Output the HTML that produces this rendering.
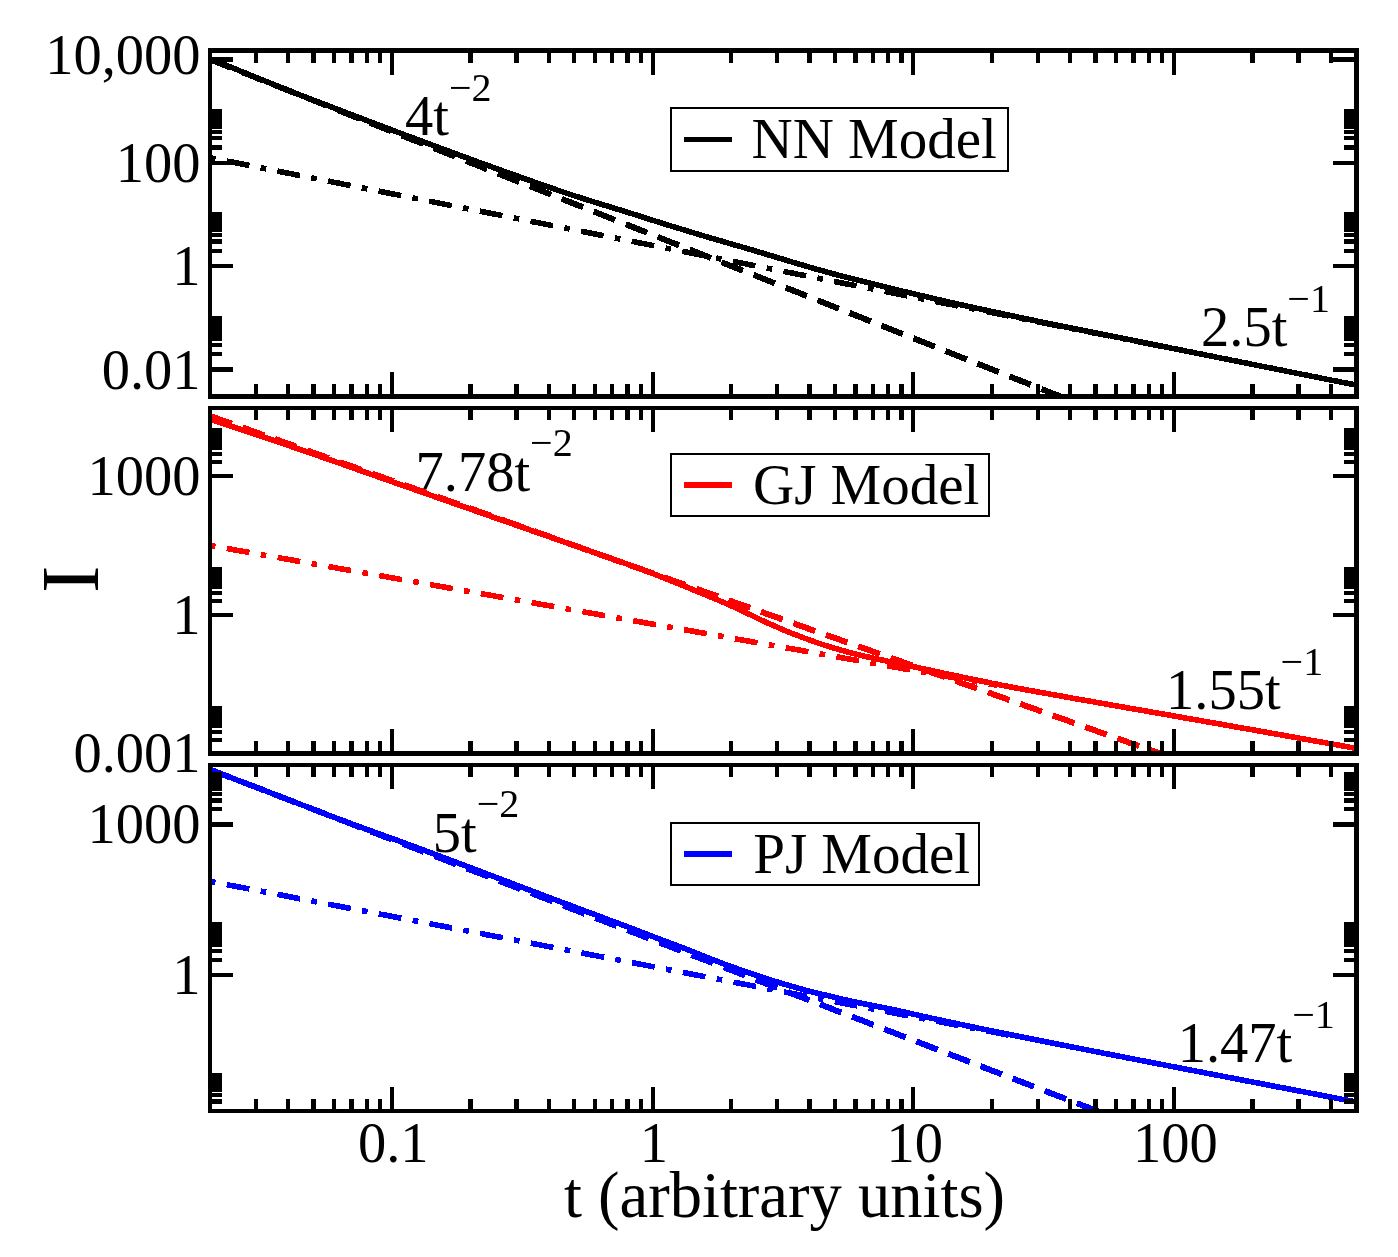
<!DOCTYPE html><html><head><meta charset="utf-8"><title>plot</title><style>html,body{margin:0;padding:0;background:#fff}svg{display:block}text{font-family:"Liberation Serif","Times New Roman",serif;fill:#000}</style></head><body>
<svg width="1398" height="1257" viewBox="0 0 1398 1257">
<rect width="1398" height="1257" fill="#fff"/>
<defs>
<clipPath id="c0"><rect x="210.0" y="50.5" width="1146.5" height="346.0"/></clipPath>
<clipPath id="c1"><rect x="210.0" y="408.0" width="1146.5" height="345.5"/></clipPath>
<clipPath id="c2"><rect x="210.0" y="765.0" width="1146.5" height="346.0"/></clipPath>
</defs>
<text x="405" y="135" font-size="56.5">4t<tspan font-size="40.0" dy="-34">−2</tspan></text>
<text x="1201" y="345.8" font-size="56.5">2.5t<tspan font-size="40.0" dy="-34">−1</tspan></text>
<text x="415.5" y="491.3" font-size="56.5">7.78t<tspan font-size="40.0" dy="-35">−2</tspan></text>
<text x="1166" y="709.3" font-size="56.5">1.55t<tspan font-size="40.0" dy="-34">−1</tspan></text>
<text x="432.8" y="851.5" font-size="56.5">5t<tspan font-size="40.0" dy="-35">−2</tspan></text>
<text x="1177.7" y="1062.4" font-size="56.5">1.47t<tspan font-size="40.0" dy="-34">−1</tspan></text>
<polyline points="210.0,59.4 212.9,60.5 215.7,61.7 218.6,62.8 221.5,64.0 224.4,65.1 227.2,66.2 230.1,67.4 233.0,68.5 235.9,69.7 238.7,70.8 241.6,71.9 244.5,73.1 247.4,74.2 250.2,75.3 253.1,76.5 256.0,77.6 258.8,78.8 261.7,79.9 264.6,81.0 267.5,82.2 270.3,83.3 273.2,84.5 276.1,85.6 279.0,86.7 281.8,87.9 284.7,89.0 287.6,90.2 290.5,91.3 293.3,92.4 296.2,93.6 299.1,94.7 301.9,95.9 304.8,97.0 307.7,98.1 310.6,99.3 313.4,100.4 316.3,101.5 319.2,102.7 322.1,103.8 324.9,105.0 327.8,106.1 330.7,107.2 333.6,108.4 336.4,109.5 339.3,110.7 342.2,111.8 345.1,112.9 347.9,114.1 350.8,115.2 353.7,116.4 356.5,117.5 359.4,118.6 362.3,119.8 365.2,120.9 368.0,122.1 370.9,123.2 373.8,124.3 376.7,125.5 379.5,126.6 382.4,127.7 385.3,128.9 388.2,130.0 391.0,131.2 393.9,132.3 396.8,133.4 399.6,134.6 402.5,135.7 405.4,136.9 408.3,138.0 411.1,139.1 414.0,140.3 416.9,141.4 419.8,142.6 422.6,143.7 425.5,144.8 428.4,146.0 431.3,147.1 434.1,148.3 437.0,149.4 439.9,150.5 442.7,151.7 445.6,152.8 448.5,153.9 451.4,155.1 454.2,156.2 457.1,157.4 460.0,158.5 462.9,159.6 465.7,160.8 468.6,161.9 471.5,163.1 474.4,164.2 477.2,165.3 480.1,166.5 483.0,167.6 485.8,168.8 488.7,169.9 491.6,171.0 494.5,172.2 497.3,173.3 500.2,174.5 503.1,175.6 506.0,176.7 508.8,177.9 511.7,179.0 514.6,180.1 517.5,181.3 520.3,182.4 523.2,183.6 526.1,184.7 529.0,185.8 531.8,187.0 534.7,188.1 537.6,189.3 540.4,190.4 543.3,191.5 546.2,192.7 549.1,193.8 551.9,195.0 554.8,196.1 557.7,197.2 560.6,198.4 563.4,199.5 566.3,200.7 569.2,201.8 572.1,202.9 574.9,204.1 577.8,205.2 580.7,206.3 583.5,207.5 586.4,208.6 589.3,209.8 592.2,210.9 595.0,212.0 597.9,213.2 600.8,214.3 603.7,215.5 606.5,216.6 609.4,217.7 612.3,218.9 615.2,220.0 618.0,221.2 620.9,222.3 623.8,223.4 626.6,224.6 629.5,225.7 632.4,226.9 635.3,228.0 638.1,229.1 641.0,230.3 643.9,231.4 646.8,232.5 649.6,233.7 652.5,234.8 655.4,236.0 658.3,237.1 661.1,238.2 664.0,239.4 666.9,240.5 669.7,241.7 672.6,242.8 675.5,243.9 678.4,245.1 681.2,246.2 684.1,247.4 687.0,248.5 689.9,249.6 692.7,250.8 695.6,251.9 698.5,253.1 701.4,254.2 704.2,255.3 707.1,256.5 710.0,257.6 712.9,258.7 715.7,259.9 718.6,261.0 721.5,262.2 724.3,263.3 727.2,264.4 730.1,265.6 733.0,266.7 735.8,267.9 738.7,269.0 741.6,270.1 744.5,271.3 747.3,272.4 750.2,273.6 753.1,274.7 756.0,275.8 758.8,277.0 761.7,278.1 764.6,279.3 767.4,280.4 770.3,281.5 773.2,282.7 776.1,283.8 778.9,284.9 781.8,286.1 784.7,287.2 787.6,288.4 790.4,289.5 793.3,290.6 796.2,291.8 799.1,292.9 801.9,294.1 804.8,295.2 807.7,296.3 810.5,297.5 813.4,298.6 816.3,299.8 819.2,300.9 822.0,302.0 824.9,303.2 827.8,304.3 830.7,305.5 833.5,306.6 836.4,307.7 839.3,308.9 842.2,310.0 845.0,311.2 847.9,312.3 850.8,313.4 853.6,314.6 856.5,315.7 859.4,316.8 862.3,318.0 865.1,319.1 868.0,320.3 870.9,321.4 873.8,322.5 876.6,323.7 879.5,324.8 882.4,326.0 885.3,327.1 888.1,328.2 891.0,329.4 893.9,330.5 896.8,331.7 899.6,332.8 902.5,333.9 905.4,335.1 908.2,336.2 911.1,337.4 914.0,338.5 916.9,339.6 919.7,340.8 922.6,341.9 925.5,343.0 928.4,344.2 931.2,345.3 934.1,346.5 937.0,347.6 939.9,348.7 942.7,349.9 945.6,351.0 948.5,352.2 951.3,353.3 954.2,354.4 957.1,355.6 960.0,356.7 962.8,357.9 965.7,359.0 968.6,360.1 971.5,361.3 974.3,362.4 977.2,363.6 980.1,364.7 983.0,365.8 985.8,367.0 988.7,368.1 991.6,369.2 994.4,370.4 997.3,371.5 1000.2,372.7 1003.1,373.8 1005.9,374.9 1008.8,376.1 1011.7,377.2 1014.6,378.4 1017.4,379.5 1020.3,380.6 1023.2,381.8 1026.1,382.9 1028.9,384.1 1031.8,385.2 1034.7,386.3 1037.5,387.5 1040.4,388.6 1043.3,389.8 1046.2,390.9 1049.0,392.0 1051.9,393.2 1054.8,394.3 1057.7,395.4 1060.5,396.6 1063.4,397.7 1066.3,398.9 1069.2,400.0 1072.0,401.1 1074.9,402.3 1077.8,403.4 1080.7,404.6 1083.5,405.7 1086.4,406.8 1089.3,408.0 1092.1,409.1 1095.0,410.3 1097.9,411.4 1100.8,412.5 1103.6,413.7 1106.5,414.8 1109.4,416.0 1112.3,417.1 1115.1,418.2 1118.0,419.4 1120.9,420.5 1123.8,421.6 1126.6,422.8 1129.5,423.9 1132.4,425.1 1135.2,426.2 1138.1,427.3 1141.0,428.5 1143.9,429.6 1146.7,430.8 1149.6,431.9 1152.5,433.0 1155.4,434.2 1158.2,435.3 1161.1,436.5 1164.0,437.6 1166.9,438.7 1169.7,439.9 1172.6,441.0 1175.5,442.2 1178.3,443.3 1181.2,444.4 1184.1,445.6 1187.0,446.7 1189.8,447.8 1192.7,449.0 1195.6,450.1 1198.5,451.3 1201.3,452.4 1204.2,453.5 1207.1,454.7 1210.0,455.8 1212.8,457.0 1215.7,458.1 1218.6,459.2 1221.4,460.4 1224.3,461.5 1227.2,462.7 1230.1,463.8 1232.9,464.9 1235.8,466.1 1238.7,467.2 1241.6,468.4 1244.4,469.5 1247.3,470.6 1250.2,471.8 1253.1,472.9 1255.9,474.0 1258.8,475.2 1261.7,476.3 1264.6,477.5 1267.4,478.6 1270.3,479.7 1273.2,480.9 1276.0,482.0 1278.9,483.2 1281.8,484.3 1284.7,485.4 1287.5,486.6 1290.4,487.7 1293.3,488.9 1296.2,490.0 1299.0,491.1 1301.9,492.3 1304.8,493.4 1307.7,494.6 1310.5,495.7 1313.4,496.8 1316.3,498.0 1319.1,499.1 1322.0,500.2 1324.9,501.4 1327.8,502.5 1330.6,503.7 1333.5,504.8 1336.4,505.9 1339.3,507.1 1342.1,508.2 1345.0,509.4 1347.9,510.5 1350.8,511.6 1353.6,512.8 1356.5,513.9" fill="none" stroke="#000" stroke-width="6.0" shape-rendering="crispEdges" stroke-dasharray="23 11.4" clip-path="url(#c0)"/>
<polyline points="210.0,157.7 212.9,158.3 215.7,158.8 218.6,159.4 221.5,160.0 224.4,160.5 227.2,161.1 230.1,161.7 233.0,162.2 235.9,162.8 238.7,163.4 241.6,164.0 244.5,164.5 247.4,165.1 250.2,165.7 253.1,166.2 256.0,166.8 258.8,167.4 261.7,167.9 264.6,168.5 267.5,169.1 270.3,169.7 273.2,170.2 276.1,170.8 279.0,171.4 281.8,171.9 284.7,172.5 287.6,173.1 290.5,173.6 293.3,174.2 296.2,174.8 299.1,175.3 301.9,175.9 304.8,176.5 307.7,177.1 310.6,177.6 313.4,178.2 316.3,178.8 319.2,179.3 322.1,179.9 324.9,180.5 327.8,181.0 330.7,181.6 333.6,182.2 336.4,182.8 339.3,183.3 342.2,183.9 345.1,184.5 347.9,185.0 350.8,185.6 353.7,186.2 356.5,186.7 359.4,187.3 362.3,187.9 365.2,188.4 368.0,189.0 370.9,189.6 373.8,190.2 376.7,190.7 379.5,191.3 382.4,191.9 385.3,192.4 388.2,193.0 391.0,193.6 393.9,194.1 396.8,194.7 399.6,195.3 402.5,195.9 405.4,196.4 408.3,197.0 411.1,197.6 414.0,198.1 416.9,198.7 419.8,199.3 422.6,199.8 425.5,200.4 428.4,201.0 431.3,201.5 434.1,202.1 437.0,202.7 439.9,203.3 442.7,203.8 445.6,204.4 448.5,205.0 451.4,205.5 454.2,206.1 457.1,206.7 460.0,207.2 462.9,207.8 465.7,208.4 468.6,209.0 471.5,209.5 474.4,210.1 477.2,210.7 480.1,211.2 483.0,211.8 485.8,212.4 488.7,212.9 491.6,213.5 494.5,214.1 497.3,214.6 500.2,215.2 503.1,215.8 506.0,216.4 508.8,216.9 511.7,217.5 514.6,218.1 517.5,218.6 520.3,219.2 523.2,219.8 526.1,220.3 529.0,220.9 531.8,221.5 534.7,222.1 537.6,222.6 540.4,223.2 543.3,223.8 546.2,224.3 549.1,224.9 551.9,225.5 554.8,226.0 557.7,226.6 560.6,227.2 563.4,227.7 566.3,228.3 569.2,228.9 572.1,229.5 574.9,230.0 577.8,230.6 580.7,231.2 583.5,231.7 586.4,232.3 589.3,232.9 592.2,233.4 595.0,234.0 597.9,234.6 600.8,235.2 603.7,235.7 606.5,236.3 609.4,236.9 612.3,237.4 615.2,238.0 618.0,238.6 620.9,239.1 623.8,239.7 626.6,240.3 629.5,240.8 632.4,241.4 635.3,242.0 638.1,242.6 641.0,243.1 643.9,243.7 646.8,244.3 649.6,244.8 652.5,245.4 655.4,246.0 658.3,246.5 661.1,247.1 664.0,247.7 666.9,248.3 669.7,248.8 672.6,249.4 675.5,250.0 678.4,250.5 681.2,251.1 684.1,251.7 687.0,252.2 689.9,252.8 692.7,253.4 695.6,254.0 698.5,254.5 701.4,255.1 704.2,255.7 707.1,256.2 710.0,256.8 712.9,257.4 715.7,257.9 718.6,258.5 721.5,259.1 724.3,259.6 727.2,260.2 730.1,260.8 733.0,261.4 735.8,261.9 738.7,262.5 741.6,263.1 744.5,263.6 747.3,264.2 750.2,264.8 753.1,265.3 756.0,265.9 758.8,266.5 761.7,267.1 764.6,267.6 767.4,268.2 770.3,268.8 773.2,269.3 776.1,269.9 778.9,270.5 781.8,271.0 784.7,271.6 787.6,272.2 790.4,272.7 793.3,273.3 796.2,273.9 799.1,274.5 801.9,275.0 804.8,275.6 807.7,276.2 810.5,276.7 813.4,277.3 816.3,277.9 819.2,278.4 822.0,279.0 824.9,279.6 827.8,280.2 830.7,280.7 833.5,281.3 836.4,281.9 839.3,282.4 842.2,283.0 845.0,283.6 847.9,284.1 850.8,284.7 853.6,285.3 856.5,285.8 859.4,286.4 862.3,287.0 865.1,287.6 868.0,288.1 870.9,288.7 873.8,289.3 876.6,289.8 879.5,290.4 882.4,291.0 885.3,291.5 888.1,292.1 891.0,292.7 893.9,293.3 896.8,293.8 899.6,294.4 902.5,295.0 905.4,295.5 908.2,296.1 911.1,296.7 914.0,297.2 916.9,297.8 919.7,298.4 922.6,298.9 925.5,299.5 928.4,300.1 931.2,300.7 934.1,301.2 937.0,301.8 939.9,302.4 942.7,302.9 945.6,303.5 948.5,304.1 951.3,304.6 954.2,305.2 957.1,305.8 960.0,306.4 962.8,306.9 965.7,307.5 968.6,308.1 971.5,308.6 974.3,309.2 977.2,309.8 980.1,310.3 983.0,310.9 985.8,311.5 988.7,312.0 991.6,312.6 994.4,313.2 997.3,313.8 1000.2,314.3 1003.1,314.9 1005.9,315.5 1008.8,316.0 1011.7,316.6 1014.6,317.2 1017.4,317.7 1020.3,318.3 1023.2,318.9 1026.1,319.5 1028.9,320.0 1031.8,320.6 1034.7,321.2 1037.5,321.7 1040.4,322.3 1043.3,322.9 1046.2,323.4 1049.0,324.0 1051.9,324.6 1054.8,325.1 1057.7,325.7 1060.5,326.3 1063.4,326.9 1066.3,327.4 1069.2,328.0 1072.0,328.6 1074.9,329.1 1077.8,329.7 1080.7,330.3 1083.5,330.8 1086.4,331.4 1089.3,332.0 1092.1,332.6 1095.0,333.1 1097.9,333.7 1100.8,334.3 1103.6,334.8 1106.5,335.4 1109.4,336.0 1112.3,336.5 1115.1,337.1 1118.0,337.7 1120.9,338.2 1123.8,338.8 1126.6,339.4 1129.5,340.0 1132.4,340.5 1135.2,341.1 1138.1,341.7 1141.0,342.2 1143.9,342.8 1146.7,343.4 1149.6,343.9 1152.5,344.5 1155.4,345.1 1158.2,345.7 1161.1,346.2 1164.0,346.8 1166.9,347.4 1169.7,347.9 1172.6,348.5" fill="none" stroke="#000" stroke-width="5.6" shape-rendering="crispEdges" stroke-dasharray="5.6 11.5 23 11.5" clip-path="url(#c0)"/>
<polyline points="210.0,58.6 212.9,59.7 215.7,60.9 218.6,62.1 221.5,63.3 224.4,64.5 227.2,65.7 230.1,66.8 233.0,68.0 235.9,69.2 238.7,70.4 241.6,71.6 244.5,72.7 247.4,73.9 250.2,75.1 253.1,76.3 256.0,77.4 258.8,78.6 261.7,79.8 264.6,80.9 267.5,82.1 270.3,83.2 273.2,84.4 276.1,85.5 279.0,86.7 281.8,87.8 284.7,89.0 287.6,90.1 290.5,91.2 293.3,92.3 296.2,93.5 299.1,94.6 301.9,95.7 304.8,96.8 307.7,97.9 310.6,99.0 313.4,100.1 316.3,101.2 319.2,102.3 322.1,103.4 324.9,104.5 327.8,105.6 330.7,106.7 333.6,107.8 336.4,108.9 339.3,110.0 342.2,111.1 345.1,112.2 347.9,113.3 350.8,114.4 353.7,115.5 356.5,116.6 359.4,117.7 362.3,118.8 365.2,119.9 368.0,121.0 370.9,122.1 373.8,123.2 376.7,124.3 379.5,125.3 382.4,126.4 385.3,127.5 388.2,128.6 391.0,129.7 393.9,130.8 396.8,131.9 399.6,132.9 402.5,134.0 405.4,135.1 408.3,136.2 411.1,137.2 414.0,138.3 416.9,139.4 419.8,140.5 422.6,141.5 425.5,142.6 428.4,143.7 431.3,144.7 434.1,145.8 437.0,146.9 439.9,147.9 442.7,149.0 445.6,150.1 448.5,151.1 451.4,152.2 454.2,153.2 457.1,154.3 460.0,155.4 462.9,156.4 465.7,157.5 468.6,158.5 471.5,159.6 474.4,160.6 477.2,161.7 480.1,162.7 483.0,163.7 485.8,164.8 488.7,165.8 491.6,166.9 494.5,167.9 497.3,168.9 500.2,170.0 503.1,171.0 506.0,172.0 508.8,173.0 511.7,174.1 514.6,175.1 517.5,176.1 520.3,177.1 523.2,178.2 526.1,179.2 529.0,180.2 531.8,181.2 534.7,182.2 537.6,183.2 540.4,184.2 543.3,185.2 546.2,186.2 549.1,187.2 551.9,188.2 554.8,189.2 557.7,190.2 560.6,191.2 563.4,192.2 566.3,193.1 569.2,194.1 572.1,195.0 574.9,196.0 577.8,196.9 580.7,197.8 583.5,198.7 586.4,199.6 589.3,200.5 592.2,201.4 595.0,202.3 597.9,203.2 600.8,204.1 603.7,205.0 606.5,205.8 609.4,206.7 612.3,207.6 615.2,208.5 618.0,209.4 620.9,210.2 623.8,211.1 626.6,212.0 629.5,212.9 632.4,213.8 635.3,214.7 638.1,215.6 641.0,216.5 643.9,217.4 646.8,218.4 649.6,219.3 652.5,220.2 655.4,221.1 658.3,222.0 661.1,222.9 664.0,223.8 666.9,224.7 669.7,225.6 672.6,226.5 675.5,227.3 678.4,228.2 681.2,229.1 684.1,230.0 687.0,230.9 689.9,231.7 692.7,232.6 695.6,233.5 698.5,234.3 701.4,235.2 704.2,236.1 707.1,236.9 710.0,237.8 712.9,238.6 715.7,239.5 718.6,240.3 721.5,241.1 724.3,242.0 727.2,242.8 730.1,243.6 733.0,244.5 735.8,245.3 738.7,246.1 741.6,246.9 744.5,247.8 747.3,248.6 750.2,249.4 753.1,250.3 756.0,251.1 758.8,252.0 761.7,252.8 764.6,253.7 767.4,254.6 770.3,255.4 773.2,256.3 776.1,257.2 778.9,258.0 781.8,258.9 784.7,259.8 787.6,260.6 790.4,261.5 793.3,262.4 796.2,263.2 799.1,264.1 801.9,264.9 804.8,265.8 807.7,266.6 810.5,267.5 813.4,268.3 816.3,269.1 819.2,269.9 822.0,270.7 824.9,271.5 827.8,272.3 830.7,273.1 833.5,273.9 836.4,274.6 839.3,275.4 842.2,276.1 845.0,276.9 847.9,277.6 850.8,278.4 853.6,279.1 856.5,279.8 859.4,280.5 862.3,281.3 865.1,282.0 868.0,282.7 870.9,283.4 873.8,284.1 876.6,284.9 879.5,285.6 882.4,286.3 885.3,287.0 888.1,287.7 891.0,288.4 893.9,289.1 896.8,289.8 899.6,290.5 902.5,291.2 905.4,291.9 908.2,292.5 911.1,293.2 914.0,293.9 916.9,294.6 919.7,295.3 922.6,295.9 925.5,296.6 928.4,297.3 931.2,298.0 934.1,298.6 937.0,299.3 939.9,300.0 942.7,300.6 945.6,301.3 948.5,301.9 951.3,302.6 954.2,303.2 957.1,303.9 960.0,304.5 962.8,305.2 965.7,305.8 968.6,306.4 971.5,307.1 974.3,307.7 977.2,308.3 980.1,309.0 983.0,309.6 985.8,310.2 988.7,310.8 991.6,311.4 994.4,312.1 997.3,312.7 1000.2,313.3 1003.1,313.9 1005.9,314.5 1008.8,315.1 1011.7,315.7 1014.6,316.3 1017.4,317.0 1020.3,317.6 1023.2,318.2 1026.1,318.8 1028.9,319.4 1031.8,320.0 1034.7,320.6 1037.5,321.2 1040.4,321.8 1043.3,322.4 1046.2,323.0 1049.0,323.6 1051.9,324.1 1054.8,324.7 1057.7,325.3 1060.5,325.9 1063.4,326.5 1066.3,327.1 1069.2,327.6 1072.0,328.2 1074.9,328.8 1077.8,329.4 1080.7,329.9 1083.5,330.5 1086.4,331.1 1089.3,331.6 1092.1,332.2 1095.0,332.8 1097.9,333.4 1100.8,333.9 1103.6,334.5 1106.5,335.1 1109.4,335.6 1112.3,336.2 1115.1,336.8 1118.0,337.3 1120.9,337.9 1123.8,338.5 1126.6,339.1 1129.5,339.6 1132.4,340.2 1135.2,340.8 1138.1,341.4 1141.0,342.0 1143.9,342.5 1146.7,343.1 1149.6,343.7 1152.5,344.3 1155.4,344.9 1158.2,345.5 1161.1,346.0 1164.0,346.6 1166.9,347.2 1169.7,347.8 1172.6,348.4 1175.5,348.9 1178.3,349.5 1181.2,350.1 1184.1,350.7 1187.0,351.3 1189.8,351.8 1192.7,352.4 1195.6,353.0 1198.5,353.6 1201.3,354.1 1204.2,354.7 1207.1,355.3 1210.0,355.9 1212.8,356.4 1215.7,357.0 1218.6,357.6 1221.4,358.2 1224.3,358.7 1227.2,359.3 1230.1,359.9 1232.9,360.5 1235.8,361.0 1238.7,361.6 1241.6,362.2 1244.4,362.8 1247.3,363.3 1250.2,363.9 1253.1,364.5 1255.9,365.1 1258.8,365.6 1261.7,366.2 1264.6,366.8 1267.4,367.4 1270.3,367.9 1273.2,368.5 1276.0,369.1 1278.9,369.7 1281.8,370.2 1284.7,370.8 1287.5,371.4 1290.4,372.0 1293.3,372.5 1296.2,373.1 1299.0,373.7 1301.9,374.3 1304.8,374.8 1307.7,375.4 1310.5,376.0 1313.4,376.6 1316.3,377.1 1319.1,377.7 1322.0,378.3 1324.9,378.9 1327.8,379.4 1330.6,380.0 1333.5,380.6 1336.4,381.1 1339.3,381.7 1342.1,382.3 1345.0,382.9 1347.9,383.4 1350.8,384.0 1353.6,384.6 1356.5,385.2" fill="none" stroke="#000" stroke-width="5.6" shape-rendering="crispEdges" clip-path="url(#c0)"/>
<polyline points="210.0,416.0 212.9,417.0 215.7,418.0 218.6,419.1 221.5,420.1 224.4,421.1 227.2,422.1 230.1,423.1 233.0,424.2 235.9,425.2 238.7,426.2 241.6,427.2 244.5,428.3 247.4,429.3 250.2,430.3 253.1,431.3 256.0,432.3 258.8,433.4 261.7,434.4 264.6,435.4 267.5,436.4 270.3,437.4 273.2,438.5 276.1,439.5 279.0,440.5 281.8,441.5 284.7,442.5 287.6,443.6 290.5,444.6 293.3,445.6 296.2,446.6 299.1,447.6 301.9,448.7 304.8,449.7 307.7,450.7 310.6,451.7 313.4,452.8 316.3,453.8 319.2,454.8 322.1,455.8 324.9,456.8 327.8,457.9 330.7,458.9 333.6,459.9 336.4,460.9 339.3,461.9 342.2,463.0 345.1,464.0 347.9,465.0 350.8,466.0 353.7,467.0 356.5,468.1 359.4,469.1 362.3,470.1 365.2,471.1 368.0,472.2 370.9,473.2 373.8,474.2 376.7,475.2 379.5,476.2 382.4,477.3 385.3,478.3 388.2,479.3 391.0,480.3 393.9,481.3 396.8,482.4 399.6,483.4 402.5,484.4 405.4,485.4 408.3,486.4 411.1,487.5 414.0,488.5 416.9,489.5 419.8,490.5 422.6,491.5 425.5,492.6 428.4,493.6 431.3,494.6 434.1,495.6 437.0,496.7 439.9,497.7 442.7,498.7 445.6,499.7 448.5,500.7 451.4,501.8 454.2,502.8 457.1,503.8 460.0,504.8 462.9,505.8 465.7,506.9 468.6,507.9 471.5,508.9 474.4,509.9 477.2,510.9 480.1,512.0 483.0,513.0 485.8,514.0 488.7,515.0 491.6,516.1 494.5,517.1 497.3,518.1 500.2,519.1 503.1,520.1 506.0,521.2 508.8,522.2 511.7,523.2 514.6,524.2 517.5,525.2 520.3,526.3 523.2,527.3 526.1,528.3 529.0,529.3 531.8,530.3 534.7,531.4 537.6,532.4 540.4,533.4 543.3,534.4 546.2,535.4 549.1,536.5 551.9,537.5 554.8,538.5 557.7,539.5 560.6,540.6 563.4,541.6 566.3,542.6 569.2,543.6 572.1,544.6 574.9,545.7 577.8,546.7 580.7,547.7 583.5,548.7 586.4,549.7 589.3,550.8 592.2,551.8 595.0,552.8 597.9,553.8 600.8,554.8 603.7,555.9 606.5,556.9 609.4,557.9 612.3,558.9 615.2,560.0 618.0,561.0 620.9,562.0 623.8,563.0 626.6,564.0 629.5,565.1 632.4,566.1 635.3,567.1 638.1,568.1 641.0,569.1 643.9,570.2 646.8,571.2 649.6,572.2 652.5,573.2 655.4,574.2 658.3,575.3 661.1,576.3 664.0,577.3 666.9,578.3 669.7,579.3 672.6,580.4 675.5,581.4 678.4,582.4 681.2,583.4 684.1,584.5 687.0,585.5 689.9,586.5 692.7,587.5 695.6,588.5 698.5,589.6 701.4,590.6 704.2,591.6 707.1,592.6 710.0,593.6 712.9,594.7 715.7,595.7 718.6,596.7 721.5,597.7 724.3,598.7 727.2,599.8 730.1,600.8 733.0,601.8 735.8,602.8 738.7,603.9 741.6,604.9 744.5,605.9 747.3,606.9 750.2,607.9 753.1,609.0 756.0,610.0 758.8,611.0 761.7,612.0 764.6,613.0 767.4,614.1 770.3,615.1 773.2,616.1 776.1,617.1 778.9,618.1 781.8,619.2 784.7,620.2 787.6,621.2 790.4,622.2 793.3,623.2 796.2,624.3 799.1,625.3 801.9,626.3 804.8,627.3 807.7,628.4 810.5,629.4 813.4,630.4 816.3,631.4 819.2,632.4 822.0,633.5 824.9,634.5 827.8,635.5 830.7,636.5 833.5,637.5 836.4,638.6 839.3,639.6 842.2,640.6 845.0,641.6 847.9,642.6 850.8,643.7 853.6,644.7 856.5,645.7 859.4,646.7 862.3,647.8 865.1,648.8 868.0,649.8 870.9,650.8 873.8,651.8 876.6,652.9 879.5,653.9 882.4,654.9 885.3,655.9 888.1,656.9 891.0,658.0 893.9,659.0 896.8,660.0 899.6,661.0 902.5,662.0 905.4,663.1 908.2,664.1 911.1,665.1 914.0,666.1 916.9,667.1 919.7,668.2 922.6,669.2 925.5,670.2 928.4,671.2 931.2,672.3 934.1,673.3 937.0,674.3 939.9,675.3 942.7,676.3 945.6,677.4 948.5,678.4 951.3,679.4 954.2,680.4 957.1,681.4 960.0,682.5 962.8,683.5 965.7,684.5 968.6,685.5 971.5,686.5 974.3,687.6 977.2,688.6 980.1,689.6 983.0,690.6 985.8,691.7 988.7,692.7 991.6,693.7 994.4,694.7 997.3,695.7 1000.2,696.8 1003.1,697.8 1005.9,698.8 1008.8,699.8 1011.7,700.8 1014.6,701.9 1017.4,702.9 1020.3,703.9 1023.2,704.9 1026.1,705.9 1028.9,707.0 1031.8,708.0 1034.7,709.0 1037.5,710.0 1040.4,711.0 1043.3,712.1 1046.2,713.1 1049.0,714.1 1051.9,715.1 1054.8,716.2 1057.7,717.2 1060.5,718.2 1063.4,719.2 1066.3,720.2 1069.2,721.3 1072.0,722.3 1074.9,723.3 1077.8,724.3 1080.7,725.3 1083.5,726.4 1086.4,727.4 1089.3,728.4 1092.1,729.4 1095.0,730.4 1097.9,731.5 1100.8,732.5 1103.6,733.5 1106.5,734.5 1109.4,735.6 1112.3,736.6 1115.1,737.6 1118.0,738.6 1120.9,739.6 1123.8,740.7 1126.6,741.7 1129.5,742.7 1132.4,743.7 1135.2,744.7 1138.1,745.8 1141.0,746.8 1143.9,747.8 1146.7,748.8 1149.6,749.8 1152.5,750.9 1155.4,751.9 1158.2,752.9 1161.1,753.9 1164.0,754.9 1166.9,756.0 1169.7,757.0 1172.6,758.0 1175.5,759.0 1178.3,760.1 1181.2,761.1 1184.1,762.1 1187.0,763.1 1189.8,764.1 1192.7,765.2 1195.6,766.2 1198.5,767.2 1201.3,768.2 1204.2,769.2 1207.1,770.3 1210.0,771.3 1212.8,772.3 1215.7,773.3 1218.6,774.3 1221.4,775.4 1224.3,776.4 1227.2,777.4 1230.1,778.4 1232.9,779.5 1235.8,780.5 1238.7,781.5 1241.6,782.5 1244.4,783.5 1247.3,784.6 1250.2,785.6 1253.1,786.6 1255.9,787.6 1258.8,788.6 1261.7,789.7 1264.6,790.7 1267.4,791.7 1270.3,792.7 1273.2,793.7 1276.0,794.8 1278.9,795.8 1281.8,796.8 1284.7,797.8 1287.5,798.8 1290.4,799.9 1293.3,800.9 1296.2,801.9 1299.0,802.9 1301.9,804.0 1304.8,805.0 1307.7,806.0 1310.5,807.0 1313.4,808.0 1316.3,809.1 1319.1,810.1 1322.0,811.1 1324.9,812.1 1327.8,813.1 1330.6,814.2 1333.5,815.2 1336.4,816.2 1339.3,817.2 1342.1,818.2 1345.0,819.3 1347.9,820.3 1350.8,821.3 1353.6,822.3 1356.5,823.4" fill="none" stroke="#f00" stroke-width="6.0" shape-rendering="crispEdges" stroke-dasharray="23 11.4" clip-path="url(#c1)"/>
<polyline points="210.0,545.5 212.9,546.0 215.7,546.5 218.6,547.0 221.5,547.5 224.4,548.1 227.2,548.6 230.1,549.1 233.0,549.6 235.9,550.1 238.7,550.6 241.6,551.1 244.5,551.6 247.4,552.1 250.2,552.6 253.1,553.2 256.0,553.7 258.8,554.2 261.7,554.7 264.6,555.2 267.5,555.7 270.3,556.2 273.2,556.7 276.1,557.2 279.0,557.7 281.8,558.3 284.7,558.8 287.6,559.3 290.5,559.8 293.3,560.3 296.2,560.8 299.1,561.3 301.9,561.8 304.8,562.3 307.7,562.9 310.6,563.4 313.4,563.9 316.3,564.4 319.2,564.9 322.1,565.4 324.9,565.9 327.8,566.4 330.7,566.9 333.6,567.4 336.4,568.0 339.3,568.5 342.2,569.0 345.1,569.5 347.9,570.0 350.8,570.5 353.7,571.0 356.5,571.5 359.4,572.0 362.3,572.5 365.2,573.1 368.0,573.6 370.9,574.1 373.8,574.6 376.7,575.1 379.5,575.6 382.4,576.1 385.3,576.6 388.2,577.1 391.0,577.7 393.9,578.2 396.8,578.7 399.6,579.2 402.5,579.7 405.4,580.2 408.3,580.7 411.1,581.2 414.0,581.7 416.9,582.2 419.8,582.8 422.6,583.3 425.5,583.8 428.4,584.3 431.3,584.8 434.1,585.3 437.0,585.8 439.9,586.3 442.7,586.8 445.6,587.3 448.5,587.9 451.4,588.4 454.2,588.9 457.1,589.4 460.0,589.9 462.9,590.4 465.7,590.9 468.6,591.4 471.5,591.9 474.4,592.4 477.2,593.0 480.1,593.5 483.0,594.0 485.8,594.5 488.7,595.0 491.6,595.5 494.5,596.0 497.3,596.5 500.2,597.0 503.1,597.6 506.0,598.1 508.8,598.6 511.7,599.1 514.6,599.6 517.5,600.1 520.3,600.6 523.2,601.1 526.1,601.6 529.0,602.1 531.8,602.7 534.7,603.2 537.6,603.7 540.4,604.2 543.3,604.7 546.2,605.2 549.1,605.7 551.9,606.2 554.8,606.7 557.7,607.2 560.6,607.8 563.4,608.3 566.3,608.8 569.2,609.3 572.1,609.8 574.9,610.3 577.8,610.8 580.7,611.3 583.5,611.8 586.4,612.4 589.3,612.9 592.2,613.4 595.0,613.9 597.9,614.4 600.8,614.9 603.7,615.4 606.5,615.9 609.4,616.4 612.3,616.9 615.2,617.5 618.0,618.0 620.9,618.5 623.8,619.0 626.6,619.5 629.5,620.0 632.4,620.5 635.3,621.0 638.1,621.5 641.0,622.0 643.9,622.6 646.8,623.1 649.6,623.6 652.5,624.1 655.4,624.6 658.3,625.1 661.1,625.6 664.0,626.1 666.9,626.6 669.7,627.2 672.6,627.7 675.5,628.2 678.4,628.7 681.2,629.2 684.1,629.7 687.0,630.2 689.9,630.7 692.7,631.2 695.6,631.7 698.5,632.3 701.4,632.8 704.2,633.3 707.1,633.8 710.0,634.3 712.9,634.8 715.7,635.3 718.6,635.8 721.5,636.3 724.3,636.8 727.2,637.4 730.1,637.9 733.0,638.4 735.8,638.9 738.7,639.4 741.6,639.9 744.5,640.4 747.3,640.9 750.2,641.4 753.1,642.0 756.0,642.5 758.8,643.0 761.7,643.5 764.6,644.0 767.4,644.5 770.3,645.0 773.2,645.5 776.1,646.0 778.9,646.5 781.8,647.1 784.7,647.6 787.6,648.1 790.4,648.6 793.3,649.1 796.2,649.6 799.1,650.1 801.9,650.6 804.8,651.1 807.7,651.6 810.5,652.2 813.4,652.7 816.3,653.2 819.2,653.7 822.0,654.2 824.9,654.7 827.8,655.2 830.7,655.7 833.5,656.2 836.4,656.8 839.3,657.3 842.2,657.8 845.0,658.3 847.9,658.8 850.8,659.3 853.6,659.8 856.5,660.3 859.4,660.8 862.3,661.3 865.1,661.9 868.0,662.4 870.9,662.9 873.8,663.4 876.6,663.9 879.5,664.4 882.4,664.9 885.3,665.4 888.1,665.9 891.0,666.4 893.9,667.0 896.8,667.5 899.6,668.0 902.5,668.5 905.4,669.0 908.2,669.5 911.1,670.0 914.0,670.5 916.9,671.0 919.7,671.5 922.6,672.1 925.5,672.6 928.4,673.1 931.2,673.6 934.1,674.1 937.0,674.6 939.9,675.1 942.7,675.6 945.6,676.1 948.5,676.7 951.3,677.2 954.2,677.7 957.1,678.2 960.0,678.7 962.8,679.2 965.7,679.7 968.6,680.2 971.5,680.7 974.3,681.2 977.2,681.8 980.1,682.3 983.0,682.8 985.8,683.3 988.7,683.8 991.6,684.3 994.4,684.8 997.3,685.3" fill="none" stroke="#f00" stroke-width="5.6" shape-rendering="crispEdges" stroke-dasharray="5.6 11.5 23 11.5" clip-path="url(#c1)"/>
<polyline points="210.0,419.2 212.9,420.1 215.7,421.1 218.6,422.0 221.5,423.0 224.4,423.9 227.2,424.9 230.1,425.8 233.0,426.8 235.9,427.8 238.7,428.7 241.6,429.7 244.5,430.6 247.4,431.6 250.2,432.6 253.1,433.5 256.0,434.5 258.8,435.5 261.7,436.4 264.6,437.4 267.5,438.4 270.3,439.3 273.2,440.3 276.1,441.3 279.0,442.3 281.8,443.3 284.7,444.2 287.6,445.2 290.5,446.2 293.3,447.2 296.2,448.2 299.1,449.2 301.9,450.2 304.8,451.1 307.7,452.1 310.6,453.1 313.4,454.1 316.3,455.1 319.2,456.1 322.1,457.1 324.9,458.1 327.8,459.1 330.7,460.1 333.6,461.1 336.4,462.1 339.3,463.1 342.2,464.1 345.1,465.2 347.9,466.2 350.8,467.2 353.7,468.2 356.5,469.2 359.4,470.2 362.3,471.2 365.2,472.2 368.0,473.2 370.9,474.3 373.8,475.3 376.7,476.3 379.5,477.3 382.4,478.3 385.3,479.3 388.2,480.3 391.0,481.3 393.9,482.4 396.8,483.4 399.6,484.4 402.5,485.4 405.4,486.4 408.3,487.4 411.1,488.4 414.0,489.4 416.9,490.4 419.8,491.4 422.6,492.4 425.5,493.4 428.4,494.4 431.3,495.4 434.1,496.5 437.0,497.5 439.9,498.5 442.7,499.5 445.6,500.5 448.5,501.5 451.4,502.5 454.2,503.5 457.1,504.5 460.0,505.5 462.9,506.5 465.7,507.5 468.6,508.5 471.5,509.5 474.4,510.5 477.2,511.5 480.1,512.5 483.0,513.5 485.8,514.5 488.7,515.5 491.6,516.6 494.5,517.6 497.3,518.6 500.2,519.6 503.1,520.6 506.0,521.6 508.8,522.6 511.7,523.6 514.6,524.6 517.5,525.6 520.3,526.6 523.2,527.6 526.1,528.6 529.0,529.6 531.8,530.7 534.7,531.7 537.6,532.7 540.4,533.7 543.3,534.7 546.2,535.7 549.1,536.7 551.9,537.7 554.8,538.7 557.7,539.7 560.6,540.7 563.4,541.7 566.3,542.8 569.2,543.8 572.1,544.8 574.9,545.8 577.8,546.8 580.7,547.8 583.5,548.8 586.4,549.8 589.3,550.8 592.2,551.8 595.0,552.9 597.9,553.9 600.8,554.9 603.7,555.9 606.5,556.9 609.4,557.9 612.3,558.9 615.2,559.9 618.0,560.9 620.9,561.9 623.8,562.9 626.6,563.9 629.5,564.9 632.4,565.9 635.3,567.0 638.1,568.0 641.0,569.1 643.9,570.2 646.8,571.2 649.6,572.3 652.5,573.5 655.4,574.6 658.3,575.7 661.1,576.8 664.0,578.0 666.9,579.1 669.7,580.2 672.6,581.4 675.5,582.6 678.4,583.7 681.2,584.9 684.1,586.1 687.0,587.2 689.9,588.4 692.7,589.6 695.6,590.8 698.5,592.0 701.4,593.2 704.2,594.3 707.1,595.5 710.0,596.7 712.9,597.9 715.7,599.1 718.6,600.3 721.5,601.6 724.3,602.8 727.2,604.0 730.1,605.3 733.0,606.6 735.8,607.9 738.7,609.2 741.6,610.5 744.5,611.9 747.3,613.3 750.2,614.7 753.1,616.1 756.0,617.5 758.8,618.9 761.7,620.3 764.6,621.6 767.4,622.9 770.3,624.2 773.2,625.4 776.1,626.7 778.9,627.9 781.8,629.2 784.7,630.4 787.6,631.6 790.4,632.8 793.3,633.9 796.2,635.0 799.1,636.1 801.9,637.2 804.8,638.3 807.7,639.3 810.5,640.4 813.4,641.4 816.3,642.4 819.2,643.4 822.0,644.3 824.9,645.3 827.8,646.2 830.7,647.1 833.5,647.9 836.4,648.8 839.3,649.6 842.2,650.4 845.0,651.2 847.9,652.0 850.8,652.8 853.6,653.5 856.5,654.2 859.4,654.9 862.3,655.6 865.1,656.3 868.0,657.0 870.9,657.6 873.8,658.3 876.6,658.9 879.5,659.5 882.4,660.1 885.3,660.7 888.1,661.4 891.0,662.0 893.9,662.5 896.8,663.1 899.6,663.7 902.5,664.3 905.4,664.9 908.2,665.5 911.1,666.2 914.0,666.8 916.9,667.4 919.7,668.0 922.6,668.6 925.5,669.2 928.4,669.9 931.2,670.5 934.1,671.1 937.0,671.7 939.9,672.3 942.7,673.0 945.6,673.6 948.5,674.2 951.3,674.8 954.2,675.4 957.1,676.0 960.0,676.7 962.8,677.3 965.7,677.9 968.6,678.5 971.5,679.1 974.3,679.7 977.2,680.3 980.1,680.9 983.0,681.4 985.8,682.0 988.7,682.6 991.6,683.2 994.4,683.8 997.3,684.3 1000.2,684.9 1003.1,685.5 1005.9,686.0 1008.8,686.6 1011.7,687.1 1014.6,687.7 1017.4,688.2 1020.3,688.7 1023.2,689.3 1026.1,689.8 1028.9,690.3 1031.8,690.8 1034.7,691.4 1037.5,691.9 1040.4,692.4 1043.3,692.9 1046.2,693.4 1049.0,693.9 1051.9,694.5 1054.8,695.0 1057.7,695.5 1060.5,696.0 1063.4,696.5 1066.3,697.0 1069.2,697.5 1072.0,698.1 1074.9,698.6 1077.8,699.1 1080.7,699.6 1083.5,700.1 1086.4,700.6 1089.3,701.1 1092.1,701.6 1095.0,702.1 1097.9,702.6 1100.8,703.1 1103.6,703.6 1106.5,704.1 1109.4,704.7 1112.3,705.2 1115.1,705.7 1118.0,706.2 1120.9,706.7 1123.8,707.2 1126.6,707.7 1129.5,708.2 1132.4,708.7 1135.2,709.2 1138.1,709.7 1141.0,710.2 1143.9,710.7 1146.7,711.2 1149.6,711.7 1152.5,712.2 1155.4,712.7 1158.2,713.2 1161.1,713.7 1164.0,714.2 1166.9,714.7 1169.7,715.2 1172.6,715.7 1175.5,716.2 1178.3,716.7 1181.2,717.2 1184.1,717.8 1187.0,718.3 1189.8,718.8 1192.7,719.3 1195.6,719.8 1198.5,720.3 1201.3,720.8 1204.2,721.3 1207.1,721.8 1210.0,722.3 1212.8,722.8 1215.7,723.3 1218.6,723.8 1221.4,724.3 1224.3,724.9 1227.2,725.4 1230.1,725.9 1232.9,726.4 1235.8,726.9 1238.7,727.4 1241.6,727.9 1244.4,728.4 1247.3,728.9 1250.2,729.4 1253.1,729.9 1255.9,730.4 1258.8,731.0 1261.7,731.5 1264.6,732.0 1267.4,732.5 1270.3,733.0 1273.2,733.5 1276.0,734.0 1278.9,734.5 1281.8,735.0 1284.7,735.5 1287.5,736.1 1290.4,736.6 1293.3,737.1 1296.2,737.6 1299.0,738.1 1301.9,738.6 1304.8,739.1 1307.7,739.7 1310.5,740.2 1313.4,740.7 1316.3,741.2 1319.1,741.7 1322.0,742.2 1324.9,742.7 1327.8,743.3 1330.6,743.8 1333.5,744.3 1336.4,744.8 1339.3,745.3 1342.1,745.9 1345.0,746.4 1347.9,746.9 1350.8,747.4 1353.6,747.9 1356.5,748.5" fill="none" stroke="#f00" stroke-width="5.6" shape-rendering="crispEdges" clip-path="url(#c1)"/>
<polyline points="210.0,769.5 212.9,770.6 215.7,771.7 218.6,772.9 221.5,774.0 224.4,775.1 227.2,776.2 230.1,777.3 233.0,778.4 235.9,779.5 238.7,780.6 241.6,781.7 244.5,782.8 247.4,783.9 250.2,785.0 253.1,786.1 256.0,787.2 258.8,788.3 261.7,789.4 264.6,790.6 267.5,791.7 270.3,792.8 273.2,793.9 276.1,795.0 279.0,796.1 281.8,797.2 284.7,798.3 287.6,799.4 290.5,800.5 293.3,801.6 296.2,802.7 299.1,803.8 301.9,804.9 304.8,806.0 307.7,807.1 310.6,808.2 313.4,809.4 316.3,810.5 319.2,811.6 322.1,812.7 324.9,813.8 327.8,814.9 330.7,816.0 333.6,817.1 336.4,818.2 339.3,819.3 342.2,820.4 345.1,821.5 347.9,822.6 350.8,823.7 353.7,824.8 356.5,825.9 359.4,827.1 362.3,828.2 365.2,829.3 368.0,830.4 370.9,831.5 373.8,832.6 376.7,833.7 379.5,834.8 382.4,835.9 385.3,837.0 388.2,838.1 391.0,839.2 393.9,840.3 396.8,841.4 399.6,842.5 402.5,843.6 405.4,844.7 408.3,845.9 411.1,847.0 414.0,848.1 416.9,849.2 419.8,850.3 422.6,851.4 425.5,852.5 428.4,853.6 431.3,854.7 434.1,855.8 437.0,856.9 439.9,858.0 442.7,859.1 445.6,860.2 448.5,861.3 451.4,862.4 454.2,863.6 457.1,864.7 460.0,865.8 462.9,866.9 465.7,868.0 468.6,869.1 471.5,870.2 474.4,871.3 477.2,872.4 480.1,873.5 483.0,874.6 485.8,875.7 488.7,876.8 491.6,877.9 494.5,879.0 497.3,880.1 500.2,881.2 503.1,882.4 506.0,883.5 508.8,884.6 511.7,885.7 514.6,886.8 517.5,887.9 520.3,889.0 523.2,890.1 526.1,891.2 529.0,892.3 531.8,893.4 534.7,894.5 537.6,895.6 540.4,896.7 543.3,897.8 546.2,898.9 549.1,900.1 551.9,901.2 554.8,902.3 557.7,903.4 560.6,904.5 563.4,905.6 566.3,906.7 569.2,907.8 572.1,908.9 574.9,910.0 577.8,911.1 580.7,912.2 583.5,913.3 586.4,914.4 589.3,915.5 592.2,916.6 595.0,917.7 597.9,918.9 600.8,920.0 603.7,921.1 606.5,922.2 609.4,923.3 612.3,924.4 615.2,925.5 618.0,926.6 620.9,927.7 623.8,928.8 626.6,929.9 629.5,931.0 632.4,932.1 635.3,933.2 638.1,934.3 641.0,935.4 643.9,936.6 646.8,937.7 649.6,938.8 652.5,939.9 655.4,941.0 658.3,942.1 661.1,943.2 664.0,944.3 666.9,945.4 669.7,946.5 672.6,947.6 675.5,948.7 678.4,949.8 681.2,950.9 684.1,952.0 687.0,953.1 689.9,954.2 692.7,955.4 695.6,956.5 698.5,957.6 701.4,958.7 704.2,959.8 707.1,960.9 710.0,962.0 712.9,963.1 715.7,964.2 718.6,965.3 721.5,966.4 724.3,967.5 727.2,968.6 730.1,969.7 733.0,970.8 735.8,971.9 738.7,973.1 741.6,974.2 744.5,975.3 747.3,976.4 750.2,977.5 753.1,978.6 756.0,979.7 758.8,980.8 761.7,981.9 764.6,983.0 767.4,984.1 770.3,985.2 773.2,986.3 776.1,987.4 778.9,988.5 781.8,989.6 784.7,990.8 787.6,991.9 790.4,993.0 793.3,994.1 796.2,995.2 799.1,996.3 801.9,997.4 804.8,998.5 807.7,999.6 810.5,1000.7 813.4,1001.8 816.3,1002.9 819.2,1004.0 822.0,1005.1 824.9,1006.2 827.8,1007.3 830.7,1008.4 833.5,1009.6 836.4,1010.7 839.3,1011.8 842.2,1012.9 845.0,1014.0 847.9,1015.1 850.8,1016.2 853.6,1017.3 856.5,1018.4 859.4,1019.5 862.3,1020.6 865.1,1021.7 868.0,1022.8 870.9,1023.9 873.8,1025.0 876.6,1026.1 879.5,1027.3 882.4,1028.4 885.3,1029.5 888.1,1030.6 891.0,1031.7 893.9,1032.8 896.8,1033.9 899.6,1035.0 902.5,1036.1 905.4,1037.2 908.2,1038.3 911.1,1039.4 914.0,1040.5 916.9,1041.6 919.7,1042.7 922.6,1043.8 925.5,1044.9 928.4,1046.1 931.2,1047.2 934.1,1048.3 937.0,1049.4 939.9,1050.5 942.7,1051.6 945.6,1052.7 948.5,1053.8 951.3,1054.9 954.2,1056.0 957.1,1057.1 960.0,1058.2 962.8,1059.3 965.7,1060.4 968.6,1061.5 971.5,1062.6 974.3,1063.8 977.2,1064.9 980.1,1066.0 983.0,1067.1 985.8,1068.2 988.7,1069.3 991.6,1070.4 994.4,1071.5 997.3,1072.6 1000.2,1073.7 1003.1,1074.8 1005.9,1075.9 1008.8,1077.0 1011.7,1078.1 1014.6,1079.2 1017.4,1080.3 1020.3,1081.4 1023.2,1082.6 1026.1,1083.7 1028.9,1084.8 1031.8,1085.9 1034.7,1087.0 1037.5,1088.1 1040.4,1089.2 1043.3,1090.3 1046.2,1091.4 1049.0,1092.5 1051.9,1093.6 1054.8,1094.7 1057.7,1095.8 1060.5,1096.9 1063.4,1098.0 1066.3,1099.1 1069.2,1100.3 1072.0,1101.4 1074.9,1102.5 1077.8,1103.6 1080.7,1104.7 1083.5,1105.8 1086.4,1106.9 1089.3,1108.0 1092.1,1109.1 1095.0,1110.2 1097.9,1111.3 1100.8,1112.4 1103.6,1113.5 1106.5,1114.6 1109.4,1115.7 1112.3,1116.8 1115.1,1117.9 1118.0,1119.1 1120.9,1120.2 1123.8,1121.3 1126.6,1122.4 1129.5,1123.5 1132.4,1124.6 1135.2,1125.7 1138.1,1126.8 1141.0,1127.9 1143.9,1129.0 1146.7,1130.1 1149.6,1131.2 1152.5,1132.3 1155.4,1133.4 1158.2,1134.5 1161.1,1135.6 1164.0,1136.8 1166.9,1137.9 1169.7,1139.0 1172.6,1140.1 1175.5,1141.2 1178.3,1142.3 1181.2,1143.4 1184.1,1144.5 1187.0,1145.6 1189.8,1146.7 1192.7,1147.8 1195.6,1148.9 1198.5,1150.0 1201.3,1151.1 1204.2,1152.2 1207.1,1153.3 1210.0,1154.4 1212.8,1155.6 1215.7,1156.7 1218.6,1157.8 1221.4,1158.9 1224.3,1160.0 1227.2,1161.1 1230.1,1162.2 1232.9,1163.3 1235.8,1164.4 1238.7,1165.5 1241.6,1166.6 1244.4,1167.7 1247.3,1168.8 1250.2,1169.9 1253.1,1171.0 1255.9,1172.1 1258.8,1173.3 1261.7,1174.4 1264.6,1175.5 1267.4,1176.6 1270.3,1177.7 1273.2,1178.8 1276.0,1179.9 1278.9,1181.0 1281.8,1182.1 1284.7,1183.2 1287.5,1184.3 1290.4,1185.4 1293.3,1186.5 1296.2,1187.6 1299.0,1188.7 1301.9,1189.8 1304.8,1190.9 1307.7,1192.1 1310.5,1193.2 1313.4,1194.3 1316.3,1195.4 1319.1,1196.5 1322.0,1197.6 1324.9,1198.7 1327.8,1199.8 1330.6,1200.9 1333.5,1202.0 1336.4,1203.1 1339.3,1204.2 1342.1,1205.3 1345.0,1206.4 1347.9,1207.5 1350.8,1208.6 1353.6,1209.8 1356.5,1210.9" fill="none" stroke="#00f" stroke-width="6.0" shape-rendering="crispEdges" stroke-dasharray="23 11.4" clip-path="url(#c2)"/>
<polyline points="210.0,881.4 212.9,882.0 215.7,882.5 218.6,883.1 221.5,883.6 224.4,884.2 227.2,884.7 230.1,885.3 233.0,885.8 235.9,886.4 238.7,886.9 241.6,887.5 244.5,888.0 247.4,888.6 250.2,889.1 253.1,889.7 256.0,890.3 258.8,890.8 261.7,891.4 264.6,891.9 267.5,892.5 270.3,893.0 273.2,893.6 276.1,894.1 279.0,894.7 281.8,895.2 284.7,895.8 287.6,896.3 290.5,896.9 293.3,897.4 296.2,898.0 299.1,898.6 301.9,899.1 304.8,899.7 307.7,900.2 310.6,900.8 313.4,901.3 316.3,901.9 319.2,902.4 322.1,903.0 324.9,903.5 327.8,904.1 330.7,904.6 333.6,905.2 336.4,905.7 339.3,906.3 342.2,906.8 345.1,907.4 347.9,908.0 350.8,908.5 353.7,909.1 356.5,909.6 359.4,910.2 362.3,910.7 365.2,911.3 368.0,911.8 370.9,912.4 373.8,912.9 376.7,913.5 379.5,914.0 382.4,914.6 385.3,915.1 388.2,915.7 391.0,916.2 393.9,916.8 396.8,917.4 399.6,917.9 402.5,918.5 405.4,919.0 408.3,919.6 411.1,920.1 414.0,920.7 416.9,921.2 419.8,921.8 422.6,922.3 425.5,922.9 428.4,923.4 431.3,924.0 434.1,924.5 437.0,925.1 439.9,925.6 442.7,926.2 445.6,926.8 448.5,927.3 451.4,927.9 454.2,928.4 457.1,929.0 460.0,929.5 462.9,930.1 465.7,930.6 468.6,931.2 471.5,931.7 474.4,932.3 477.2,932.8 480.1,933.4 483.0,933.9 485.8,934.5 488.7,935.1 491.6,935.6 494.5,936.2 497.3,936.7 500.2,937.3 503.1,937.8 506.0,938.4 508.8,938.9 511.7,939.5 514.6,940.0 517.5,940.6 520.3,941.1 523.2,941.7 526.1,942.2 529.0,942.8 531.8,943.3 534.7,943.9 537.6,944.5 540.4,945.0 543.3,945.6 546.2,946.1 549.1,946.7 551.9,947.2 554.8,947.8 557.7,948.3 560.6,948.9 563.4,949.4 566.3,950.0 569.2,950.5 572.1,951.1 574.9,951.6 577.8,952.2 580.7,952.7 583.5,953.3 586.4,953.9 589.3,954.4 592.2,955.0 595.0,955.5 597.9,956.1 600.8,956.6 603.7,957.2 606.5,957.7 609.4,958.3 612.3,958.8 615.2,959.4 618.0,959.9 620.9,960.5 623.8,961.0 626.6,961.6 629.5,962.2 632.4,962.7 635.3,963.3 638.1,963.8 641.0,964.4 643.9,964.9 646.8,965.5 649.6,966.0 652.5,966.6 655.4,967.1 658.3,967.7 661.1,968.2 664.0,968.8 666.9,969.3 669.7,969.9 672.6,970.4 675.5,971.0 678.4,971.6 681.2,972.1 684.1,972.7 687.0,973.2 689.9,973.8 692.7,974.3 695.6,974.9 698.5,975.4 701.4,976.0 704.2,976.5 707.1,977.1 710.0,977.6 712.9,978.2 715.7,978.7 718.6,979.3 721.5,979.8 724.3,980.4 727.2,981.0 730.1,981.5 733.0,982.1 735.8,982.6 738.7,983.2 741.6,983.7 744.5,984.3 747.3,984.8 750.2,985.4 753.1,985.9 756.0,986.5 758.8,987.0 761.7,987.6 764.6,988.1 767.4,988.7 770.3,989.2 773.2,989.8 776.1,990.4 778.9,990.9 781.8,991.5 784.7,992.0 787.6,992.6 790.4,993.1 793.3,993.7 796.2,994.2 799.1,994.8 801.9,995.3 804.8,995.9 807.7,996.4 810.5,997.0 813.4,997.5 816.3,998.1 819.2,998.7 822.0,999.2 824.9,999.8 827.8,1000.3 830.7,1000.9 833.5,1001.4 836.4,1002.0 839.3,1002.5 842.2,1003.1 845.0,1003.6 847.9,1004.2 850.8,1004.7 853.6,1005.3 856.5,1005.8 859.4,1006.4 862.3,1006.9 865.1,1007.5 868.0,1008.1 870.9,1008.6 873.8,1009.2 876.6,1009.7 879.5,1010.3 882.4,1010.8 885.3,1011.4 888.1,1011.9 891.0,1012.5 893.9,1013.0 896.8,1013.6 899.6,1014.1 902.5,1014.7 905.4,1015.2 908.2,1015.8 911.1,1016.3 914.0,1016.9 916.9,1017.5 919.7,1018.0 922.6,1018.6 925.5,1019.1 928.4,1019.7 931.2,1020.2 934.1,1020.8 937.0,1021.3 939.9,1021.9 942.7,1022.4 945.6,1023.0 948.5,1023.5 951.3,1024.1 954.2,1024.6 957.1,1025.2 960.0,1025.7 962.8,1026.3 965.7,1026.9 968.6,1027.4 971.5,1028.0 974.3,1028.5 977.2,1029.1 980.1,1029.6 983.0,1030.2 985.8,1030.7 988.7,1031.3 991.6,1031.8 994.4,1032.4 997.3,1032.9 1000.2,1033.5 1003.1,1034.0 1005.9,1034.6 1008.8,1035.2" fill="none" stroke="#00f" stroke-width="5.6" shape-rendering="crispEdges" stroke-dasharray="5.6 11.5 23 11.5" clip-path="url(#c2)"/>
<polyline points="210.0,769.5 212.9,770.6 215.7,771.7 218.6,772.8 221.5,774.0 224.4,775.1 227.2,776.2 230.1,777.3 233.0,778.4 235.9,779.5 238.7,780.6 241.6,781.7 244.5,782.8 247.4,783.9 250.2,785.0 253.1,786.1 256.0,787.2 258.8,788.3 261.7,789.4 264.6,790.5 267.5,791.6 270.3,792.7 273.2,793.9 276.1,795.0 279.0,796.1 281.8,797.2 284.7,798.3 287.6,799.4 290.5,800.5 293.3,801.6 296.2,802.7 299.1,803.8 301.9,804.9 304.8,806.0 307.7,807.1 310.6,808.2 313.4,809.3 316.3,810.4 319.2,811.5 322.1,812.6 324.9,813.7 327.8,814.9 330.7,816.0 333.6,817.1 336.4,818.1 339.3,819.2 342.2,820.3 345.1,821.4 347.9,822.5 350.8,823.5 353.7,824.6 356.5,825.6 359.4,826.7 362.3,827.7 365.2,828.8 368.0,829.8 370.9,830.9 373.8,831.9 376.7,832.9 379.5,834.0 382.4,835.0 385.3,836.1 388.2,837.1 391.0,838.1 393.9,839.2 396.8,840.2 399.6,841.3 402.5,842.3 405.4,843.4 408.3,844.4 411.1,845.5 414.0,846.5 416.9,847.6 419.8,848.7 422.6,849.8 425.5,850.8 428.4,851.9 431.3,853.0 434.1,854.1 437.0,855.1 439.9,856.2 442.7,857.3 445.6,858.4 448.5,859.4 451.4,860.5 454.2,861.6 457.1,862.7 460.0,863.7 462.9,864.8 465.7,865.9 468.6,867.0 471.5,868.1 474.4,869.1 477.2,870.2 480.1,871.3 483.0,872.4 485.8,873.5 488.7,874.6 491.6,875.7 494.5,876.8 497.3,877.9 500.2,878.9 503.1,880.0 506.0,881.1 508.8,882.2 511.7,883.3 514.6,884.4 517.5,885.5 520.3,886.6 523.2,887.7 526.1,888.8 529.0,889.9 531.8,891.0 534.7,892.0 537.6,893.1 540.4,894.2 543.3,895.3 546.2,896.4 549.1,897.5 551.9,898.6 554.8,899.6 557.7,900.7 560.6,901.8 563.4,902.9 566.3,904.0 569.2,905.0 572.1,906.1 574.9,907.2 577.8,908.3 580.7,909.4 583.5,910.4 586.4,911.5 589.3,912.6 592.2,913.6 595.0,914.7 597.9,915.8 600.8,916.8 603.7,917.9 606.5,919.0 609.4,920.1 612.3,921.1 615.2,922.2 618.0,923.3 620.9,924.4 623.8,925.5 626.6,926.5 629.5,927.6 632.4,928.7 635.3,929.8 638.1,930.9 641.0,932.0 643.9,933.1 646.8,934.2 649.6,935.3 652.5,936.4 655.4,937.5 658.3,938.6 661.1,939.6 664.0,940.7 666.9,941.8 669.7,942.9 672.6,944.0 675.5,945.1 678.4,946.1 681.2,947.2 684.1,948.3 687.0,949.4 689.9,950.6 692.7,951.7 695.6,952.8 698.5,954.0 701.4,955.1 704.2,956.3 707.1,957.4 710.0,958.6 712.9,959.7 715.7,960.8 718.6,961.9 721.5,963.0 724.3,964.1 727.2,965.2 730.1,966.2 733.0,967.2 735.8,968.2 738.7,969.2 741.6,970.2 744.5,971.2 747.3,972.2 750.2,973.2 753.1,974.2 756.0,975.1 758.8,976.1 761.7,977.1 764.6,978.0 767.4,978.9 770.3,979.8 773.2,980.8 776.1,981.7 778.9,982.5 781.8,983.4 784.7,984.3 787.6,985.1 790.4,986.0 793.3,986.8 796.2,987.6 799.1,988.4 801.9,989.2 804.8,990.0 807.7,990.7 810.5,991.5 813.4,992.2 816.3,992.9 819.2,993.6 822.0,994.3 824.9,995.0 827.8,995.7 830.7,996.4 833.5,997.1 836.4,997.8 839.3,998.4 842.2,999.1 845.0,999.8 847.9,1000.4 850.8,1001.1 853.6,1001.7 856.5,1002.3 859.4,1002.9 862.3,1003.5 865.1,1004.1 868.0,1004.6 870.9,1005.2 873.8,1005.8 876.6,1006.3 879.5,1006.9 882.4,1007.4 885.3,1008.0 888.1,1008.6 891.0,1009.2 893.9,1009.8 896.8,1010.4 899.6,1011.0 902.5,1011.7 905.4,1012.3 908.2,1013.0 911.1,1013.6 914.0,1014.3 916.9,1014.9 919.7,1015.6 922.6,1016.2 925.5,1016.8 928.4,1017.5 931.2,1018.1 934.1,1018.7 937.0,1019.4 939.9,1020.0 942.7,1020.6 945.6,1021.2 948.5,1021.8 951.3,1022.4 954.2,1023.1 957.1,1023.7 960.0,1024.3 962.8,1024.9 965.7,1025.5 968.6,1026.1 971.5,1026.7 974.3,1027.3 977.2,1027.9 980.1,1028.5 983.0,1029.1 985.8,1029.7 988.7,1030.3 991.6,1030.8 994.4,1031.4 997.3,1032.0 1000.2,1032.6 1003.1,1033.2 1005.9,1033.8 1008.8,1034.4 1011.7,1034.9 1014.6,1035.5 1017.4,1036.1 1020.3,1036.7 1023.2,1037.3 1026.1,1037.8 1028.9,1038.4 1031.8,1039.0 1034.7,1039.6 1037.5,1040.1 1040.4,1040.7 1043.3,1041.3 1046.2,1041.9 1049.0,1042.4 1051.9,1043.0 1054.8,1043.6 1057.7,1044.1 1060.5,1044.7 1063.4,1045.3 1066.3,1045.8 1069.2,1046.4 1072.0,1047.0 1074.9,1047.5 1077.8,1048.1 1080.7,1048.7 1083.5,1049.2 1086.4,1049.8 1089.3,1050.4 1092.1,1050.9 1095.0,1051.5 1097.9,1052.0 1100.8,1052.6 1103.6,1053.2 1106.5,1053.7 1109.4,1054.3 1112.3,1054.9 1115.1,1055.4 1118.0,1056.0 1120.9,1056.5 1123.8,1057.1 1126.6,1057.7 1129.5,1058.2 1132.4,1058.8 1135.2,1059.3 1138.1,1059.9 1141.0,1060.5 1143.9,1061.0 1146.7,1061.6 1149.6,1062.1 1152.5,1062.7 1155.4,1063.2 1158.2,1063.8 1161.1,1064.4 1164.0,1064.9 1166.9,1065.5 1169.7,1066.0 1172.6,1066.6 1175.5,1067.1 1178.3,1067.7 1181.2,1068.3 1184.1,1068.8 1187.0,1069.4 1189.8,1069.9 1192.7,1070.5 1195.6,1071.0 1198.5,1071.6 1201.3,1072.1 1204.2,1072.7 1207.1,1073.3 1210.0,1073.8 1212.8,1074.4 1215.7,1074.9 1218.6,1075.5 1221.4,1076.0 1224.3,1076.6 1227.2,1077.1 1230.1,1077.7 1232.9,1078.2 1235.8,1078.8 1238.7,1079.4 1241.6,1079.9 1244.4,1080.5 1247.3,1081.0 1250.2,1081.6 1253.1,1082.1 1255.9,1082.7 1258.8,1083.2 1261.7,1083.8 1264.6,1084.3 1267.4,1084.9 1270.3,1085.5 1273.2,1086.0 1276.0,1086.6 1278.9,1087.1 1281.8,1087.7 1284.7,1088.2 1287.5,1088.8 1290.4,1089.3 1293.3,1089.9 1296.2,1090.4 1299.0,1091.0 1301.9,1091.5 1304.8,1092.1 1307.7,1092.7 1310.5,1093.2 1313.4,1093.8 1316.3,1094.3 1319.1,1094.9 1322.0,1095.4 1324.9,1096.0 1327.8,1096.5 1330.6,1097.1 1333.5,1097.6 1336.4,1098.2 1339.3,1098.7 1342.1,1099.3 1345.0,1099.8 1347.9,1100.4 1350.8,1101.0 1353.6,1101.5 1356.5,1102.1" fill="none" stroke="#00f" stroke-width="5.6" shape-rendering="crispEdges" clip-path="url(#c2)"/>
<rect x="254" y="53" width="4" height="10" fill="#000"/>
<rect x="254" y="384" width="4" height="10" fill="#000"/>
<rect x="286" y="53" width="4" height="10" fill="#000"/>
<rect x="286" y="384" width="4" height="10" fill="#000"/>
<rect x="311" y="53" width="5" height="10" fill="#000"/>
<rect x="311" y="384" width="5" height="10" fill="#000"/>
<rect x="332" y="53" width="4" height="10" fill="#000"/>
<rect x="332" y="384" width="4" height="10" fill="#000"/>
<rect x="349" y="53" width="5" height="10" fill="#000"/>
<rect x="349" y="384" width="5" height="10" fill="#000"/>
<rect x="365" y="53" width="4" height="10" fill="#000"/>
<rect x="365" y="384" width="4" height="10" fill="#000"/>
<rect x="378" y="53" width="4" height="10" fill="#000"/>
<rect x="378" y="384" width="4" height="10" fill="#000"/>
<rect x="390" y="53" width="4" height="22" fill="#000"/>
<rect x="390" y="372" width="4" height="22" fill="#000"/>
<rect x="468" y="53" width="5" height="10" fill="#000"/>
<rect x="468" y="384" width="5" height="10" fill="#000"/>
<rect x="514" y="53" width="5" height="10" fill="#000"/>
<rect x="514" y="384" width="5" height="10" fill="#000"/>
<rect x="547" y="53" width="4" height="10" fill="#000"/>
<rect x="547" y="384" width="4" height="10" fill="#000"/>
<rect x="572" y="53" width="4" height="10" fill="#000"/>
<rect x="572" y="384" width="4" height="10" fill="#000"/>
<rect x="593" y="53" width="4" height="10" fill="#000"/>
<rect x="593" y="384" width="4" height="10" fill="#000"/>
<rect x="610" y="53" width="4" height="10" fill="#000"/>
<rect x="610" y="384" width="4" height="10" fill="#000"/>
<rect x="625" y="53" width="5" height="10" fill="#000"/>
<rect x="625" y="384" width="5" height="10" fill="#000"/>
<rect x="639" y="53" width="4" height="10" fill="#000"/>
<rect x="639" y="384" width="4" height="10" fill="#000"/>
<rect x="651" y="53" width="4" height="22" fill="#000"/>
<rect x="651" y="372" width="4" height="22" fill="#000"/>
<rect x="729" y="53" width="4" height="10" fill="#000"/>
<rect x="729" y="384" width="4" height="10" fill="#000"/>
<rect x="775" y="53" width="4" height="10" fill="#000"/>
<rect x="775" y="384" width="4" height="10" fill="#000"/>
<rect x="807" y="53" width="5" height="10" fill="#000"/>
<rect x="807" y="384" width="5" height="10" fill="#000"/>
<rect x="833" y="53" width="4" height="10" fill="#000"/>
<rect x="833" y="384" width="4" height="10" fill="#000"/>
<rect x="853" y="53" width="5" height="10" fill="#000"/>
<rect x="853" y="384" width="5" height="10" fill="#000"/>
<rect x="871" y="53" width="4" height="10" fill="#000"/>
<rect x="871" y="384" width="4" height="10" fill="#000"/>
<rect x="886" y="53" width="4" height="10" fill="#000"/>
<rect x="886" y="384" width="4" height="10" fill="#000"/>
<rect x="899" y="53" width="5" height="10" fill="#000"/>
<rect x="899" y="384" width="5" height="10" fill="#000"/>
<rect x="911" y="53" width="4" height="22" fill="#000"/>
<rect x="911" y="372" width="4" height="22" fill="#000"/>
<rect x="990" y="53" width="4" height="10" fill="#000"/>
<rect x="990" y="384" width="4" height="10" fill="#000"/>
<rect x="1036" y="53" width="4" height="10" fill="#000"/>
<rect x="1036" y="384" width="4" height="10" fill="#000"/>
<rect x="1068" y="53" width="4" height="10" fill="#000"/>
<rect x="1068" y="384" width="4" height="10" fill="#000"/>
<rect x="1093" y="53" width="5" height="10" fill="#000"/>
<rect x="1093" y="384" width="5" height="10" fill="#000"/>
<rect x="1114" y="53" width="4" height="10" fill="#000"/>
<rect x="1114" y="384" width="4" height="10" fill="#000"/>
<rect x="1131" y="53" width="5" height="10" fill="#000"/>
<rect x="1131" y="384" width="5" height="10" fill="#000"/>
<rect x="1147" y="53" width="4" height="10" fill="#000"/>
<rect x="1147" y="384" width="4" height="10" fill="#000"/>
<rect x="1160" y="53" width="4" height="10" fill="#000"/>
<rect x="1160" y="384" width="4" height="10" fill="#000"/>
<rect x="1172" y="53" width="4" height="22" fill="#000"/>
<rect x="1172" y="372" width="4" height="22" fill="#000"/>
<rect x="1250" y="53" width="5" height="10" fill="#000"/>
<rect x="1250" y="384" width="5" height="10" fill="#000"/>
<rect x="1296" y="53" width="5" height="10" fill="#000"/>
<rect x="1296" y="384" width="5" height="10" fill="#000"/>
<rect x="1329" y="53" width="4" height="10" fill="#000"/>
<rect x="1329" y="384" width="4" height="10" fill="#000"/>
<rect x="212" y="367" width="21" height="5" fill="#000"/>
<rect x="1333" y="367" width="21" height="5" fill="#000"/>
<rect x="212" y="352" width="10" height="4" fill="#000"/>
<rect x="1344" y="352" width="10" height="4" fill="#000"/>
<rect x="212" y="343" width="10" height="4" fill="#000"/>
<rect x="1344" y="343" width="10" height="4" fill="#000"/>
<rect x="212" y="336" width="10" height="5" fill="#000"/>
<rect x="1344" y="336" width="10" height="5" fill="#000"/>
<rect x="212" y="331" width="10" height="5" fill="#000"/>
<rect x="1344" y="331" width="10" height="5" fill="#000"/>
<rect x="212" y="327" width="10" height="5" fill="#000"/>
<rect x="1344" y="327" width="10" height="5" fill="#000"/>
<rect x="212" y="324" width="10" height="4" fill="#000"/>
<rect x="1344" y="324" width="10" height="4" fill="#000"/>
<rect x="212" y="321" width="10" height="4" fill="#000"/>
<rect x="1344" y="321" width="10" height="4" fill="#000"/>
<rect x="212" y="318" width="10" height="4" fill="#000"/>
<rect x="1344" y="318" width="10" height="4" fill="#000"/>
<rect x="212" y="316" width="10" height="4" fill="#000"/>
<rect x="1344" y="316" width="10" height="4" fill="#000"/>
<rect x="212" y="264" width="21" height="4" fill="#000"/>
<rect x="1333" y="264" width="21" height="4" fill="#000"/>
<rect x="212" y="249" width="10" height="4" fill="#000"/>
<rect x="1344" y="249" width="10" height="4" fill="#000"/>
<rect x="212" y="239" width="10" height="5" fill="#000"/>
<rect x="1344" y="239" width="10" height="5" fill="#000"/>
<rect x="212" y="233" width="10" height="4" fill="#000"/>
<rect x="1344" y="233" width="10" height="4" fill="#000"/>
<rect x="212" y="228" width="10" height="4" fill="#000"/>
<rect x="1344" y="228" width="10" height="4" fill="#000"/>
<rect x="212" y="224" width="10" height="4" fill="#000"/>
<rect x="1344" y="224" width="10" height="4" fill="#000"/>
<rect x="212" y="220" width="10" height="5" fill="#000"/>
<rect x="1344" y="220" width="10" height="5" fill="#000"/>
<rect x="212" y="217" width="10" height="5" fill="#000"/>
<rect x="1344" y="217" width="10" height="5" fill="#000"/>
<rect x="212" y="215" width="10" height="4" fill="#000"/>
<rect x="1344" y="215" width="10" height="4" fill="#000"/>
<rect x="212" y="212" width="10" height="5" fill="#000"/>
<rect x="1344" y="212" width="10" height="5" fill="#000"/>
<rect x="212" y="161" width="21" height="4" fill="#000"/>
<rect x="1333" y="161" width="21" height="4" fill="#000"/>
<rect x="212" y="145" width="10" height="5" fill="#000"/>
<rect x="1344" y="145" width="10" height="5" fill="#000"/>
<rect x="212" y="136" width="10" height="4" fill="#000"/>
<rect x="1344" y="136" width="10" height="4" fill="#000"/>
<rect x="212" y="130" width="10" height="4" fill="#000"/>
<rect x="1344" y="130" width="10" height="4" fill="#000"/>
<rect x="212" y="125" width="10" height="4" fill="#000"/>
<rect x="1344" y="125" width="10" height="4" fill="#000"/>
<rect x="212" y="121" width="10" height="4" fill="#000"/>
<rect x="1344" y="121" width="10" height="4" fill="#000"/>
<rect x="212" y="117" width="10" height="4" fill="#000"/>
<rect x="1344" y="117" width="10" height="4" fill="#000"/>
<rect x="212" y="114" width="10" height="4" fill="#000"/>
<rect x="1344" y="114" width="10" height="4" fill="#000"/>
<rect x="212" y="112" width="10" height="4" fill="#000"/>
<rect x="1344" y="112" width="10" height="4" fill="#000"/>
<rect x="212" y="109" width="10" height="4" fill="#000"/>
<rect x="1344" y="109" width="10" height="4" fill="#000"/>
<rect x="212" y="57" width="21" height="5" fill="#000"/>
<rect x="1333" y="57" width="21" height="5" fill="#000"/>
<rect x="208" y="48" width="1151" height="5" fill="#000"/>
<rect x="208" y="394" width="1151" height="5" fill="#000"/>
<rect x="208" y="48" width="4" height="351" fill="#000"/>
<rect x="1354" y="48" width="5" height="351" fill="#000"/>
<rect x="254" y="410" width="4" height="10" fill="#000"/>
<rect x="254" y="741" width="4" height="10" fill="#000"/>
<rect x="286" y="410" width="4" height="10" fill="#000"/>
<rect x="286" y="741" width="4" height="10" fill="#000"/>
<rect x="311" y="410" width="5" height="10" fill="#000"/>
<rect x="311" y="741" width="5" height="10" fill="#000"/>
<rect x="332" y="410" width="4" height="10" fill="#000"/>
<rect x="332" y="741" width="4" height="10" fill="#000"/>
<rect x="349" y="410" width="5" height="10" fill="#000"/>
<rect x="349" y="741" width="5" height="10" fill="#000"/>
<rect x="365" y="410" width="4" height="10" fill="#000"/>
<rect x="365" y="741" width="4" height="10" fill="#000"/>
<rect x="378" y="410" width="4" height="10" fill="#000"/>
<rect x="378" y="741" width="4" height="10" fill="#000"/>
<rect x="390" y="410" width="4" height="22" fill="#000"/>
<rect x="390" y="729" width="4" height="22" fill="#000"/>
<rect x="468" y="410" width="5" height="10" fill="#000"/>
<rect x="468" y="741" width="5" height="10" fill="#000"/>
<rect x="514" y="410" width="5" height="10" fill="#000"/>
<rect x="514" y="741" width="5" height="10" fill="#000"/>
<rect x="547" y="410" width="4" height="10" fill="#000"/>
<rect x="547" y="741" width="4" height="10" fill="#000"/>
<rect x="572" y="410" width="4" height="10" fill="#000"/>
<rect x="572" y="741" width="4" height="10" fill="#000"/>
<rect x="593" y="410" width="4" height="10" fill="#000"/>
<rect x="593" y="741" width="4" height="10" fill="#000"/>
<rect x="610" y="410" width="4" height="10" fill="#000"/>
<rect x="610" y="741" width="4" height="10" fill="#000"/>
<rect x="625" y="410" width="5" height="10" fill="#000"/>
<rect x="625" y="741" width="5" height="10" fill="#000"/>
<rect x="639" y="410" width="4" height="10" fill="#000"/>
<rect x="639" y="741" width="4" height="10" fill="#000"/>
<rect x="651" y="410" width="4" height="22" fill="#000"/>
<rect x="651" y="729" width="4" height="22" fill="#000"/>
<rect x="729" y="410" width="4" height="10" fill="#000"/>
<rect x="729" y="741" width="4" height="10" fill="#000"/>
<rect x="775" y="410" width="4" height="10" fill="#000"/>
<rect x="775" y="741" width="4" height="10" fill="#000"/>
<rect x="807" y="410" width="5" height="10" fill="#000"/>
<rect x="807" y="741" width="5" height="10" fill="#000"/>
<rect x="833" y="410" width="4" height="10" fill="#000"/>
<rect x="833" y="741" width="4" height="10" fill="#000"/>
<rect x="853" y="410" width="5" height="10" fill="#000"/>
<rect x="853" y="741" width="5" height="10" fill="#000"/>
<rect x="871" y="410" width="4" height="10" fill="#000"/>
<rect x="871" y="741" width="4" height="10" fill="#000"/>
<rect x="886" y="410" width="4" height="10" fill="#000"/>
<rect x="886" y="741" width="4" height="10" fill="#000"/>
<rect x="899" y="410" width="5" height="10" fill="#000"/>
<rect x="899" y="741" width="5" height="10" fill="#000"/>
<rect x="911" y="410" width="4" height="22" fill="#000"/>
<rect x="911" y="729" width="4" height="22" fill="#000"/>
<rect x="990" y="410" width="4" height="10" fill="#000"/>
<rect x="990" y="741" width="4" height="10" fill="#000"/>
<rect x="1036" y="410" width="4" height="10" fill="#000"/>
<rect x="1036" y="741" width="4" height="10" fill="#000"/>
<rect x="1068" y="410" width="4" height="10" fill="#000"/>
<rect x="1068" y="741" width="4" height="10" fill="#000"/>
<rect x="1093" y="410" width="5" height="10" fill="#000"/>
<rect x="1093" y="741" width="5" height="10" fill="#000"/>
<rect x="1114" y="410" width="4" height="10" fill="#000"/>
<rect x="1114" y="741" width="4" height="10" fill="#000"/>
<rect x="1131" y="410" width="5" height="10" fill="#000"/>
<rect x="1131" y="741" width="5" height="10" fill="#000"/>
<rect x="1147" y="410" width="4" height="10" fill="#000"/>
<rect x="1147" y="741" width="4" height="10" fill="#000"/>
<rect x="1160" y="410" width="4" height="10" fill="#000"/>
<rect x="1160" y="741" width="4" height="10" fill="#000"/>
<rect x="1172" y="410" width="4" height="22" fill="#000"/>
<rect x="1172" y="729" width="4" height="22" fill="#000"/>
<rect x="1250" y="410" width="5" height="10" fill="#000"/>
<rect x="1250" y="741" width="5" height="10" fill="#000"/>
<rect x="1296" y="410" width="5" height="10" fill="#000"/>
<rect x="1296" y="741" width="5" height="10" fill="#000"/>
<rect x="1329" y="410" width="4" height="10" fill="#000"/>
<rect x="1329" y="741" width="4" height="10" fill="#000"/>
<rect x="212" y="738" width="10" height="4" fill="#000"/>
<rect x="1344" y="738" width="10" height="4" fill="#000"/>
<rect x="212" y="730" width="10" height="4" fill="#000"/>
<rect x="1344" y="730" width="10" height="4" fill="#000"/>
<rect x="212" y="724" width="10" height="4" fill="#000"/>
<rect x="1344" y="724" width="10" height="4" fill="#000"/>
<rect x="212" y="719" width="10" height="5" fill="#000"/>
<rect x="1344" y="719" width="10" height="5" fill="#000"/>
<rect x="212" y="716" width="10" height="4" fill="#000"/>
<rect x="1344" y="716" width="10" height="4" fill="#000"/>
<rect x="212" y="713" width="10" height="4" fill="#000"/>
<rect x="1344" y="713" width="10" height="4" fill="#000"/>
<rect x="212" y="710" width="10" height="4" fill="#000"/>
<rect x="1344" y="710" width="10" height="4" fill="#000"/>
<rect x="212" y="708" width="10" height="4" fill="#000"/>
<rect x="1344" y="708" width="10" height="4" fill="#000"/>
<rect x="212" y="706" width="10" height="4" fill="#000"/>
<rect x="1344" y="706" width="10" height="4" fill="#000"/>
<rect x="212" y="613" width="21" height="4" fill="#000"/>
<rect x="1333" y="613" width="21" height="4" fill="#000"/>
<rect x="212" y="599" width="10" height="4" fill="#000"/>
<rect x="1344" y="599" width="10" height="4" fill="#000"/>
<rect x="212" y="591" width="10" height="4" fill="#000"/>
<rect x="1344" y="591" width="10" height="4" fill="#000"/>
<rect x="212" y="585" width="10" height="4" fill="#000"/>
<rect x="1344" y="585" width="10" height="4" fill="#000"/>
<rect x="212" y="580" width="10" height="5" fill="#000"/>
<rect x="1344" y="580" width="10" height="5" fill="#000"/>
<rect x="212" y="577" width="10" height="4" fill="#000"/>
<rect x="1344" y="577" width="10" height="4" fill="#000"/>
<rect x="212" y="574" width="10" height="4" fill="#000"/>
<rect x="1344" y="574" width="10" height="4" fill="#000"/>
<rect x="212" y="571" width="10" height="4" fill="#000"/>
<rect x="1344" y="571" width="10" height="4" fill="#000"/>
<rect x="212" y="569" width="10" height="4" fill="#000"/>
<rect x="1344" y="569" width="10" height="4" fill="#000"/>
<rect x="212" y="567" width="10" height="4" fill="#000"/>
<rect x="1344" y="567" width="10" height="4" fill="#000"/>
<rect x="212" y="474" width="21" height="4" fill="#000"/>
<rect x="1333" y="474" width="21" height="4" fill="#000"/>
<rect x="212" y="460" width="10" height="4" fill="#000"/>
<rect x="1344" y="460" width="10" height="4" fill="#000"/>
<rect x="212" y="452" width="10" height="4" fill="#000"/>
<rect x="1344" y="452" width="10" height="4" fill="#000"/>
<rect x="212" y="446" width="10" height="4" fill="#000"/>
<rect x="1344" y="446" width="10" height="4" fill="#000"/>
<rect x="212" y="441" width="10" height="5" fill="#000"/>
<rect x="1344" y="441" width="10" height="5" fill="#000"/>
<rect x="212" y="438" width="10" height="4" fill="#000"/>
<rect x="1344" y="438" width="10" height="4" fill="#000"/>
<rect x="212" y="435" width="10" height="4" fill="#000"/>
<rect x="1344" y="435" width="10" height="4" fill="#000"/>
<rect x="212" y="432" width="10" height="4" fill="#000"/>
<rect x="1344" y="432" width="10" height="4" fill="#000"/>
<rect x="212" y="430" width="10" height="4" fill="#000"/>
<rect x="1344" y="430" width="10" height="4" fill="#000"/>
<rect x="212" y="428" width="10" height="4" fill="#000"/>
<rect x="1344" y="428" width="10" height="4" fill="#000"/>
<rect x="208" y="406" width="1151" height="4" fill="#000"/>
<rect x="208" y="751" width="1151" height="5" fill="#000"/>
<rect x="208" y="406" width="4" height="350" fill="#000"/>
<rect x="1354" y="406" width="5" height="350" fill="#000"/>
<rect x="254" y="767" width="4" height="10" fill="#000"/>
<rect x="254" y="1099" width="4" height="10" fill="#000"/>
<rect x="286" y="767" width="4" height="10" fill="#000"/>
<rect x="286" y="1099" width="4" height="10" fill="#000"/>
<rect x="311" y="767" width="5" height="10" fill="#000"/>
<rect x="311" y="1099" width="5" height="10" fill="#000"/>
<rect x="332" y="767" width="4" height="10" fill="#000"/>
<rect x="332" y="1099" width="4" height="10" fill="#000"/>
<rect x="349" y="767" width="5" height="10" fill="#000"/>
<rect x="349" y="1099" width="5" height="10" fill="#000"/>
<rect x="365" y="767" width="4" height="10" fill="#000"/>
<rect x="365" y="1099" width="4" height="10" fill="#000"/>
<rect x="378" y="767" width="4" height="10" fill="#000"/>
<rect x="378" y="1099" width="4" height="10" fill="#000"/>
<rect x="390" y="767" width="4" height="22" fill="#000"/>
<rect x="390" y="1087" width="4" height="22" fill="#000"/>
<rect x="468" y="767" width="5" height="10" fill="#000"/>
<rect x="468" y="1099" width="5" height="10" fill="#000"/>
<rect x="514" y="767" width="5" height="10" fill="#000"/>
<rect x="514" y="1099" width="5" height="10" fill="#000"/>
<rect x="547" y="767" width="4" height="10" fill="#000"/>
<rect x="547" y="1099" width="4" height="10" fill="#000"/>
<rect x="572" y="767" width="4" height="10" fill="#000"/>
<rect x="572" y="1099" width="4" height="10" fill="#000"/>
<rect x="593" y="767" width="4" height="10" fill="#000"/>
<rect x="593" y="1099" width="4" height="10" fill="#000"/>
<rect x="610" y="767" width="4" height="10" fill="#000"/>
<rect x="610" y="1099" width="4" height="10" fill="#000"/>
<rect x="625" y="767" width="5" height="10" fill="#000"/>
<rect x="625" y="1099" width="5" height="10" fill="#000"/>
<rect x="639" y="767" width="4" height="10" fill="#000"/>
<rect x="639" y="1099" width="4" height="10" fill="#000"/>
<rect x="651" y="767" width="4" height="22" fill="#000"/>
<rect x="651" y="1087" width="4" height="22" fill="#000"/>
<rect x="729" y="767" width="4" height="10" fill="#000"/>
<rect x="729" y="1099" width="4" height="10" fill="#000"/>
<rect x="775" y="767" width="4" height="10" fill="#000"/>
<rect x="775" y="1099" width="4" height="10" fill="#000"/>
<rect x="807" y="767" width="5" height="10" fill="#000"/>
<rect x="807" y="1099" width="5" height="10" fill="#000"/>
<rect x="833" y="767" width="4" height="10" fill="#000"/>
<rect x="833" y="1099" width="4" height="10" fill="#000"/>
<rect x="853" y="767" width="5" height="10" fill="#000"/>
<rect x="853" y="1099" width="5" height="10" fill="#000"/>
<rect x="871" y="767" width="4" height="10" fill="#000"/>
<rect x="871" y="1099" width="4" height="10" fill="#000"/>
<rect x="886" y="767" width="4" height="10" fill="#000"/>
<rect x="886" y="1099" width="4" height="10" fill="#000"/>
<rect x="899" y="767" width="5" height="10" fill="#000"/>
<rect x="899" y="1099" width="5" height="10" fill="#000"/>
<rect x="911" y="767" width="4" height="22" fill="#000"/>
<rect x="911" y="1087" width="4" height="22" fill="#000"/>
<rect x="990" y="767" width="4" height="10" fill="#000"/>
<rect x="990" y="1099" width="4" height="10" fill="#000"/>
<rect x="1036" y="767" width="4" height="10" fill="#000"/>
<rect x="1036" y="1099" width="4" height="10" fill="#000"/>
<rect x="1068" y="767" width="4" height="10" fill="#000"/>
<rect x="1068" y="1099" width="4" height="10" fill="#000"/>
<rect x="1093" y="767" width="5" height="10" fill="#000"/>
<rect x="1093" y="1099" width="5" height="10" fill="#000"/>
<rect x="1114" y="767" width="4" height="10" fill="#000"/>
<rect x="1114" y="1099" width="4" height="10" fill="#000"/>
<rect x="1131" y="767" width="5" height="10" fill="#000"/>
<rect x="1131" y="1099" width="5" height="10" fill="#000"/>
<rect x="1147" y="767" width="4" height="10" fill="#000"/>
<rect x="1147" y="1099" width="4" height="10" fill="#000"/>
<rect x="1160" y="767" width="4" height="10" fill="#000"/>
<rect x="1160" y="1099" width="4" height="10" fill="#000"/>
<rect x="1172" y="767" width="4" height="22" fill="#000"/>
<rect x="1172" y="1087" width="4" height="22" fill="#000"/>
<rect x="1250" y="767" width="5" height="10" fill="#000"/>
<rect x="1250" y="1099" width="5" height="10" fill="#000"/>
<rect x="1296" y="767" width="5" height="10" fill="#000"/>
<rect x="1296" y="1099" width="5" height="10" fill="#000"/>
<rect x="1329" y="767" width="4" height="10" fill="#000"/>
<rect x="1329" y="1099" width="4" height="10" fill="#000"/>
<rect x="212" y="1099" width="10" height="5" fill="#000"/>
<rect x="1344" y="1099" width="10" height="5" fill="#000"/>
<rect x="212" y="1093" width="10" height="4" fill="#000"/>
<rect x="1344" y="1093" width="10" height="4" fill="#000"/>
<rect x="212" y="1088" width="10" height="4" fill="#000"/>
<rect x="1344" y="1088" width="10" height="4" fill="#000"/>
<rect x="212" y="1084" width="10" height="4" fill="#000"/>
<rect x="1344" y="1084" width="10" height="4" fill="#000"/>
<rect x="212" y="1081" width="10" height="4" fill="#000"/>
<rect x="1344" y="1081" width="10" height="4" fill="#000"/>
<rect x="212" y="1078" width="10" height="4" fill="#000"/>
<rect x="1344" y="1078" width="10" height="4" fill="#000"/>
<rect x="212" y="1075" width="10" height="5" fill="#000"/>
<rect x="1344" y="1075" width="10" height="5" fill="#000"/>
<rect x="212" y="1073" width="10" height="4" fill="#000"/>
<rect x="1344" y="1073" width="10" height="4" fill="#000"/>
<rect x="212" y="973" width="21" height="4" fill="#000"/>
<rect x="1333" y="973" width="21" height="4" fill="#000"/>
<rect x="212" y="958" width="10" height="4" fill="#000"/>
<rect x="1344" y="958" width="10" height="4" fill="#000"/>
<rect x="212" y="949" width="10" height="4" fill="#000"/>
<rect x="1344" y="949" width="10" height="4" fill="#000"/>
<rect x="212" y="942" width="10" height="5" fill="#000"/>
<rect x="1344" y="942" width="10" height="5" fill="#000"/>
<rect x="212" y="938" width="10" height="4" fill="#000"/>
<rect x="1344" y="938" width="10" height="4" fill="#000"/>
<rect x="212" y="934" width="10" height="4" fill="#000"/>
<rect x="1344" y="934" width="10" height="4" fill="#000"/>
<rect x="212" y="930" width="10" height="5" fill="#000"/>
<rect x="1344" y="930" width="10" height="5" fill="#000"/>
<rect x="212" y="927" width="10" height="5" fill="#000"/>
<rect x="1344" y="927" width="10" height="5" fill="#000"/>
<rect x="212" y="925" width="10" height="4" fill="#000"/>
<rect x="1344" y="925" width="10" height="4" fill="#000"/>
<rect x="212" y="922" width="10" height="5" fill="#000"/>
<rect x="1344" y="922" width="10" height="5" fill="#000"/>
<rect x="212" y="822" width="21" height="5" fill="#000"/>
<rect x="1333" y="822" width="21" height="5" fill="#000"/>
<rect x="212" y="807" width="10" height="4" fill="#000"/>
<rect x="1344" y="807" width="10" height="4" fill="#000"/>
<rect x="212" y="798" width="10" height="5" fill="#000"/>
<rect x="1344" y="798" width="10" height="5" fill="#000"/>
<rect x="212" y="792" width="10" height="4" fill="#000"/>
<rect x="1344" y="792" width="10" height="4" fill="#000"/>
<rect x="212" y="787" width="10" height="4" fill="#000"/>
<rect x="1344" y="787" width="10" height="4" fill="#000"/>
<rect x="212" y="783" width="10" height="4" fill="#000"/>
<rect x="1344" y="783" width="10" height="4" fill="#000"/>
<rect x="212" y="780" width="10" height="4" fill="#000"/>
<rect x="1344" y="780" width="10" height="4" fill="#000"/>
<rect x="212" y="777" width="10" height="4" fill="#000"/>
<rect x="1344" y="777" width="10" height="4" fill="#000"/>
<rect x="212" y="774" width="10" height="5" fill="#000"/>
<rect x="1344" y="774" width="10" height="5" fill="#000"/>
<rect x="212" y="772" width="10" height="4" fill="#000"/>
<rect x="1344" y="772" width="10" height="4" fill="#000"/>
<rect x="208" y="763" width="1151" height="4" fill="#000"/>
<rect x="208" y="1109" width="1151" height="4" fill="#000"/>
<rect x="208" y="763" width="4" height="350" fill="#000"/>
<rect x="1354" y="763" width="5" height="350" fill="#000"/>
<text x="200.5" y="74.4" font-size="56.5" text-anchor="end">10,000</text>
<text x="200.5" y="181.7" font-size="56.5" text-anchor="end">100</text>
<text x="200.5" y="285.2" font-size="56.5" text-anchor="end">1</text>
<text x="200.5" y="388.7" font-size="56.5" text-anchor="end">0.01</text>
<text x="200.5" y="495" font-size="56.5" text-anchor="end">1000</text>
<text x="200.5" y="634" font-size="56.5" text-anchor="end">1</text>
<text x="200.5" y="771.5" font-size="56.5" text-anchor="end">0.001</text>
<text x="200.5" y="843.3" font-size="56.5" text-anchor="end">1000</text>
<text x="200.5" y="994" font-size="56.5" text-anchor="end">1</text>
<text x="393.3" y="1161.5" font-size="56.5" text-anchor="middle">0.1</text>
<text x="653.97" y="1161.5" font-size="56.5" text-anchor="middle">1</text>
<text x="914.64" y="1161.5" font-size="56.5" text-anchor="middle">10</text>
<text x="1175.31" y="1161.5" font-size="56.5" text-anchor="middle">100</text>
<text x="784.5" y="1216.5" font-size="64.6" text-anchor="middle">t (arbitrary units)</text>
<text transform="translate(98.1,579.4) rotate(-90)" font-size="82" text-anchor="middle">I</text>
<rect x="671" y="108" width="337" height="63" fill="#fff" stroke="#000" stroke-width="2" shape-rendering="crispEdges"/><rect x="684" y="137" width="48" height="5" fill="#000"/><text x="751.5" y="158" font-size="57">NN Model</text>
<rect x="671" y="454" width="318" height="62" fill="#fff" stroke="#000" stroke-width="2" shape-rendering="crispEdges"/><rect x="684" y="482" width="48" height="6" fill="#f00"/><text x="753" y="504" font-size="57">GJ Model</text>
<rect x="671" y="823" width="308" height="62" fill="#fff" stroke="#000" stroke-width="2" shape-rendering="crispEdges"/><rect x="684" y="851" width="48" height="6" fill="#00f"/><text x="753.2" y="873" font-size="57">PJ Model</text>
</svg></body></html>
